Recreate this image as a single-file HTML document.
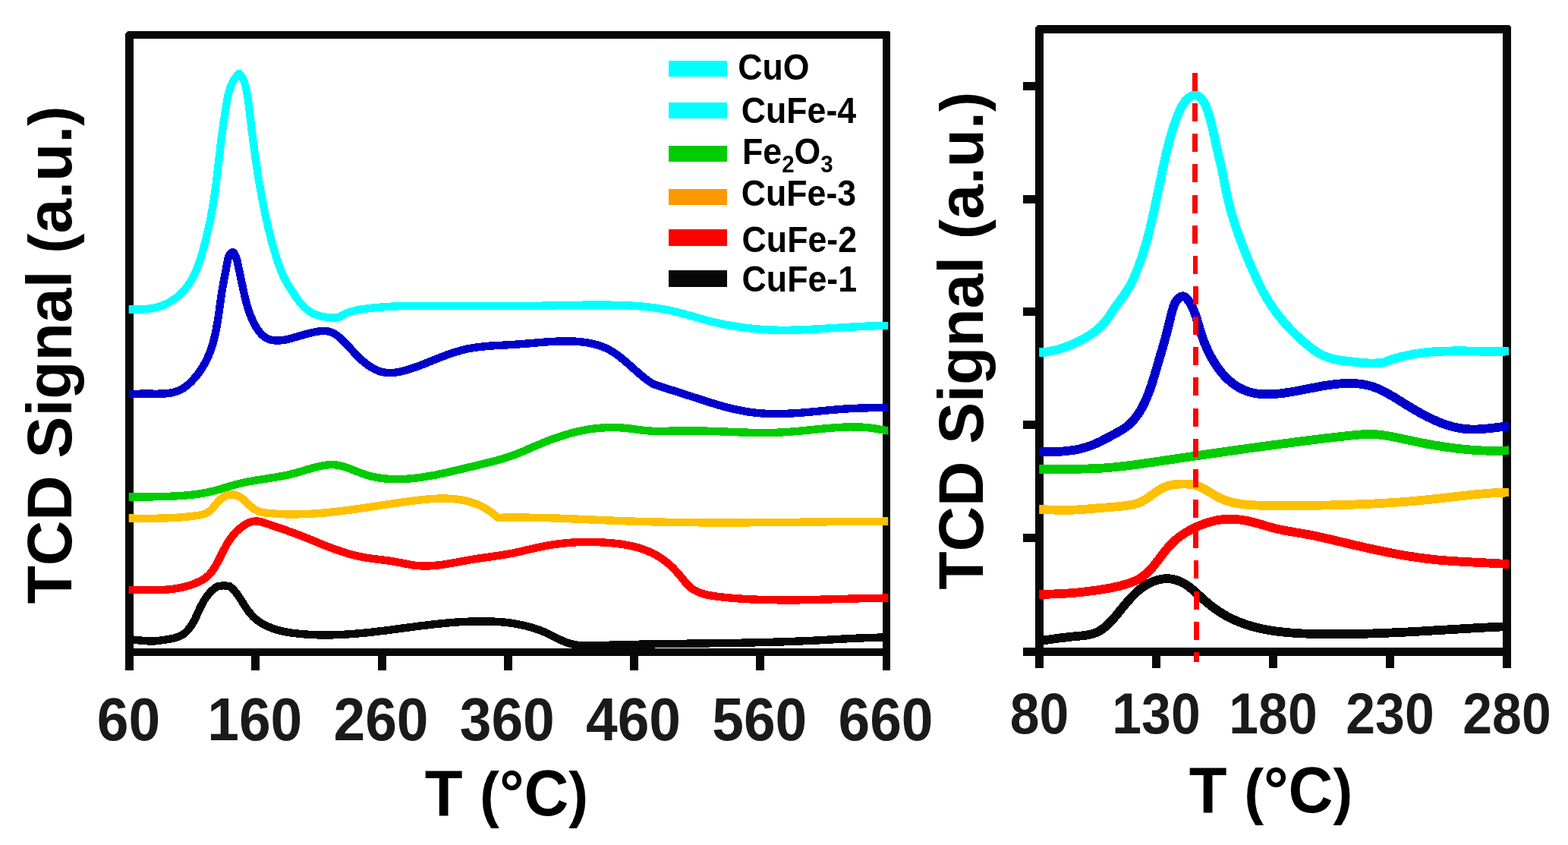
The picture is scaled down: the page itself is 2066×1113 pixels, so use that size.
<!DOCTYPE html>
<html lang="en"><head><meta charset="utf-8"><title>TCD Signal vs T</title>
<style>html,body{margin:0;padding:0;background:#fff}body{width:2066px;height:1113px;overflow:hidden}svg{display:block}text{font-family:"Liberation Sans",sans-serif;font-weight:bold}</style></head><body>
<svg width="2066" height="1113" viewBox="0 0 2066 1113">
<rect width="2066" height="1113" fill="#fff"/>
<g fill="#080808" shape-rendering="crispEdges">
<path d="M168 41H1171L1173 43V883H1163V864H176V883H165V44ZM176 51V854H1163V51Z" fill-rule="evenodd"/>
<rect x="331.0" y="860" width="11" height="23"/>
<rect x="498.0" y="860" width="11" height="23"/>
<rect x="664.0" y="860" width="11" height="23"/>
<rect x="830.0" y="860" width="11" height="23"/>
<rect x="996.0" y="860" width="11" height="23"/>
<path d="M1367 33H1988L1991 36V880H1980V864H1375V880H1364V864H1348V853H1364V36ZM1375 44V853H1980V44Z" fill-rule="evenodd"/>
<rect x="1518" y="860" width="11" height="20"/>
<rect x="1672" y="860" width="11" height="20"/>
<rect x="1826" y="860" width="11" height="20"/>
<rect x="1348" y="108" width="20" height="11"/>
<rect x="1348" y="257" width="20" height="11"/>
<rect x="1348" y="405" width="20" height="11"/>
<rect x="1348" y="554" width="20" height="11"/>
<rect x="1348" y="703" width="20" height="11"/>
</g>
<defs><clipPath id="cl"><rect x="169.7" y="0" width="1000.4" height="1113"/></clipPath><clipPath id="cr"><rect x="1369.2" y="0" width="618.8" height="1113"/></clipPath></defs>
<g fill="none" stroke-linejoin="round" stroke-linecap="butt" shape-rendering="crispEdges" stroke-width="10.4" clip-path="url(#cl)">
<path d="M159.7 842.3C161.7 842.1 163.7 842.1 165.7 842.1C167.7 842.1 169.6 842.2 171.6 842.3C173.6 842.4 175.6 842.6 177.6 842.8C179.6 843.0 181.6 843.2 183.6 843.4C185.6 843.6 187.5 843.8 189.5 844.0C191.5 844.2 193.5 844.3 195.5 844.4C197.4 844.5 199.4 844.5 201.4 844.5C203.3 844.4 205.3 844.3 207.2 844.1C209.2 843.9 211.1 843.6 213.1 843.3C215.1 843.0 217.1 842.7 219.1 842.4C221.1 842.1 223.1 841.8 225.1 841.4C227.1 841.0 229.1 840.6 231.0 840.1C233.0 839.5 234.9 838.9 236.7 838.1C238.5 837.3 240.1 836.3 241.7 835.2C243.3 834.1 244.7 832.9 246.1 831.5C247.4 830.2 248.7 828.7 249.8 827.1C251.0 825.6 252.1 824.0 253.1 822.3C254.2 820.5 255.1 818.8 256.1 817.0C257.0 815.2 257.9 813.3 258.8 811.5C259.6 809.6 260.5 807.7 261.3 805.8C262.2 804.0 263.1 802.1 263.9 800.2C264.8 798.4 265.7 796.6 266.7 794.9C267.6 793.1 268.6 791.4 269.6 789.8C270.7 788.1 271.8 786.5 272.9 785.0C274.1 783.5 275.4 782.0 276.7 780.6C278.0 779.1 279.4 777.8 280.9 776.5C282.5 775.1 284.1 773.9 285.8 772.7L294.5 771.2L302.4 772.2C303.9 773.3 305.4 774.5 306.8 775.9C308.1 777.2 309.4 778.7 310.7 780.2C311.9 781.8 313.1 783.4 314.3 785.1C315.5 786.8 316.6 788.6 317.7 790.3C318.8 792.1 320.0 793.9 321.1 795.7C322.2 797.5 323.3 799.2 324.5 801.0C325.6 802.7 326.8 804.4 328.1 806.0C329.3 807.6 330.6 809.2 332.0 810.6C333.3 812.1 334.7 813.4 336.2 814.7C337.6 816.0 339.2 817.2 340.7 818.3C342.3 819.4 343.9 820.5 345.6 821.5C347.2 822.4 348.9 823.4 350.6 824.2C352.4 825.0 354.2 825.8 356.0 826.5C357.8 827.3 359.6 827.9 361.5 828.5C363.3 829.1 365.2 829.7 367.2 830.2C369.1 830.7 371.0 831.2 373.0 831.6C374.9 832.0 376.9 832.4 378.9 832.7C380.9 833.1 382.9 833.4 384.9 833.7C386.9 834.0 388.9 834.2 390.9 834.4C392.9 834.7 394.9 834.9 396.9 835.1C398.9 835.2 400.9 835.4 402.9 835.5C404.9 835.7 406.9 835.8 408.9 835.9C410.9 836.0 412.9 836.1 414.9 836.2C416.9 836.3 418.9 836.3 420.9 836.4C422.9 836.4 424.9 836.4 426.9 836.5C428.9 836.5 430.9 836.5 432.9 836.4C434.9 836.4 436.9 836.4 438.9 836.3C440.9 836.3 442.9 836.2 444.9 836.1C446.8 836.1 448.8 836.0 450.8 835.9C452.8 835.8 454.8 835.7 456.8 835.5C458.8 835.4 460.7 835.3 462.7 835.1C464.7 835.0 466.7 834.8 468.7 834.7C470.7 834.5 472.6 834.3 474.6 834.2C476.6 834.0 478.6 833.8 480.6 833.6C482.5 833.4 484.5 833.2 486.5 833.0C488.5 832.8 490.5 832.5 492.4 832.3C494.4 832.1 496.4 831.9 498.4 831.6C500.3 831.4 502.3 831.2 504.3 830.9C506.3 830.7 508.3 830.4 510.2 830.2C512.2 829.9 514.2 829.7 516.2 829.4C518.1 829.1 520.1 828.9 522.1 828.6C524.1 828.4 526.0 828.1 528.0 827.8C530.0 827.6 532.0 827.3 533.9 827.1C535.9 826.8 537.9 826.5 539.9 826.3C541.9 826.0 543.8 825.8 545.8 825.5C547.8 825.2 549.8 825.0 551.7 824.7C553.7 824.5 555.7 824.2 557.7 824.0C559.7 823.7 561.6 823.5 563.6 823.3C565.6 823.0 567.6 822.8 569.6 822.6C571.5 822.3 573.5 822.1 575.5 821.9C577.5 821.7 579.5 821.5 581.5 821.3C583.4 821.1 585.4 820.9 587.4 820.7C589.4 820.5 591.4 820.3 593.4 820.2C595.4 820.0 597.3 819.8 599.3 819.7C601.3 819.5 603.3 819.4 605.3 819.3C607.3 819.2 609.3 819.0 611.3 818.9C613.3 818.8 615.3 818.7 617.3 818.7C619.3 818.6 621.2 818.5 623.2 818.4C625.2 818.4 627.2 818.4 629.2 818.3C631.2 818.3 633.2 818.3 635.2 818.3C637.3 818.3 639.3 818.3 641.3 818.3C643.3 818.4 645.3 818.4 647.3 818.5C649.3 818.6 651.3 818.7 653.3 818.8C655.3 818.9 657.3 819.0 659.3 819.2C661.2 819.4 663.2 819.5 665.2 819.7C667.2 820.0 669.2 820.2 671.2 820.4C673.1 820.7 675.1 821.0 677.1 821.3C679.0 821.6 681.0 821.9 682.9 822.3C684.9 822.7 686.8 823.1 688.8 823.5C690.7 824.0 692.6 824.4 694.5 824.9C696.5 825.4 698.4 825.9 700.3 826.5C702.2 827.1 704.1 827.7 705.9 828.3C707.8 828.9 709.7 829.6 711.6 830.3C713.4 831.0 715.3 831.7 717.1 832.5C718.9 833.3 720.8 834.1 722.6 834.9C724.4 835.8 726.2 836.7 728.0 837.6C729.8 838.5 731.6 839.4 733.4 840.4C735.2 841.3 737.0 842.1 738.8 843.0C740.6 843.8 742.5 844.6 744.3 845.3C746.2 846.1 748.1 846.7 749.9 847.3C751.8 847.9 753.7 848.4 755.7 848.8C757.6 849.2 759.5 849.5 761.5 849.8C763.4 850.1 765.4 850.2 767.4 850.4C769.3 850.5 771.3 850.6 773.3 850.6C775.3 850.6 777.3 850.6 779.3 850.5C781.3 850.5 783.3 850.4 785.3 850.4C787.3 850.3 789.3 850.2 791.3 850.1C793.3 850.1 795.3 850.0 797.3 849.9C799.3 849.9 801.3 849.8 803.3 849.7C805.3 849.7 807.3 849.6 809.3 849.5C811.3 849.5 813.3 849.4 815.3 849.4C817.3 849.3 819.3 849.3 821.3 849.2C823.3 849.1 825.3 849.1 827.3 849.0C829.3 849.0 831.3 848.9 833.3 848.9C835.3 848.9 837.3 848.8 839.3 848.8C841.3 848.7 843.3 848.7 845.3 848.6C847.3 848.6 849.3 848.6 851.3 848.5C853.3 848.5 855.3 848.4 857.3 848.4C859.2 848.4 861.2 848.3 863.2 848.3C865.2 848.3 867.2 848.2 869.2 848.2C871.2 848.2 873.2 848.1 875.2 848.1C877.2 848.1 879.2 848.1 881.2 848.0C883.2 848.0 885.2 848.0 887.2 847.9C889.2 847.9 891.2 847.9 893.2 847.9C895.1 847.8 897.1 847.8 899.1 847.8C901.1 847.8 903.1 847.7 905.1 847.7C907.1 847.7 909.1 847.7 911.1 847.6C913.1 847.6 915.1 847.6 917.1 847.6C919.1 847.5 921.1 847.5 923.0 847.5C925.0 847.5 927.0 847.4 929.0 847.4C931.0 847.4 933.0 847.4 935.0 847.3C937.0 847.3 939.0 847.3 941.0 847.2C943.0 847.2 945.0 847.2 946.9 847.2C948.9 847.1 950.9 847.1 952.9 847.1C954.9 847.1 956.9 847.0 958.9 847.0C960.9 847.0 962.9 846.9 964.9 846.9C966.9 846.9 968.8 846.8 970.8 846.8C972.8 846.8 974.8 846.7 976.8 846.7C978.8 846.7 980.8 846.6 982.8 846.6C984.8 846.5 986.8 846.5 988.8 846.5C990.7 846.4 992.7 846.4 994.7 846.3C996.7 846.3 998.7 846.2 1000.7 846.2C1002.7 846.2 1004.7 846.1 1006.7 846.1C1008.7 846.0 1010.7 846.0 1012.6 845.9C1014.6 845.8 1016.6 845.8 1018.6 845.7C1020.6 845.7 1022.6 845.6 1024.6 845.6C1026.6 845.5 1028.6 845.4 1030.6 845.4C1032.6 845.3 1034.5 845.2 1036.5 845.2C1038.5 845.1 1040.5 845.0 1042.5 845.0C1044.5 844.9 1046.5 844.8 1048.5 844.7C1050.5 844.6 1052.5 844.6 1054.5 844.5C1056.5 844.4 1058.5 844.3 1060.4 844.2C1062.4 844.1 1064.4 844.0 1066.4 843.9C1068.4 843.9 1070.4 843.8 1072.4 843.7C1074.4 843.6 1076.4 843.5 1078.4 843.4C1080.4 843.3 1082.4 843.1 1084.4 843.0C1086.4 842.9 1088.4 842.8 1090.4 842.7C1092.3 842.6 1094.3 842.5 1096.3 842.4C1098.3 842.3 1100.3 842.2 1102.3 842.1C1104.3 842.0 1106.3 841.8 1108.3 841.7C1110.3 841.6 1112.3 841.5 1114.3 841.4C1116.3 841.3 1118.3 841.2 1120.3 841.1C1122.3 841.0 1124.2 840.9 1126.2 840.8C1128.2 840.7 1130.2 840.6 1132.2 840.5C1134.2 840.5 1136.2 840.4 1138.2 840.3C1140.2 840.2 1142.2 840.1 1144.2 840.1C1146.2 840.0 1148.2 839.9 1150.2 839.8C1152.1 839.8 1154.1 839.7 1156.1 839.7C1158.1 839.6 1160.1 839.6 1162.1 839.5C1164.1 839.5 1166.1 839.4 1168.1 839.4C1170.1 839.4 1172.0 839.3 1174.0 839.3C1176.0 839.3 1178.0 839.3 1180.0 839.3" stroke="#080808"/>
<path d="M159.7 407.5C161.6 407.5 163.6 407.5 165.6 407.5C167.5 407.5 169.5 407.5 171.5 407.5C173.5 407.6 175.5 407.6 177.5 407.6C179.5 407.6 181.6 407.6 183.6 407.5C185.6 407.5 187.6 407.4 189.6 407.3C191.6 407.1 193.7 407.0 195.6 406.7C197.6 406.5 199.6 406.2 201.6 405.8C203.5 405.5 205.5 405.0 207.4 404.5C209.3 404.0 211.2 403.4 213.1 402.7C215.0 402.0 216.8 401.2 218.6 400.4C220.4 399.5 222.2 398.6 223.9 397.6C225.6 396.6 227.3 395.5 229.0 394.4C230.6 393.3 232.2 392.1 233.7 390.9C235.3 389.6 236.8 388.3 238.2 386.9C239.6 385.6 241.0 384.2 242.3 382.7C243.6 381.2 244.8 379.7 246.0 378.2C247.2 376.6 248.4 375.0 249.4 373.4C250.5 371.7 251.5 370.1 252.5 368.3C253.5 366.6 254.4 364.9 255.3 363.1C256.2 361.3 257.0 359.5 257.8 357.7C258.7 355.9 259.4 354.0 260.2 352.1C260.9 350.3 261.6 348.4 262.3 346.5C262.9 344.5 263.6 342.6 264.2 340.7C264.8 338.8 265.4 336.8 266.0 334.9C266.5 332.9 267.1 331.0 267.6 329.0C268.2 327.0 268.7 325.1 269.2 323.1C269.7 321.2 270.2 319.2 270.7 317.3C271.2 315.3 271.7 313.4 272.1 311.5C272.6 309.5 273.1 307.6 273.5 305.7C274.0 303.7 274.4 301.8 274.9 299.9C275.3 297.9 275.7 296.0 276.1 294.1C276.5 292.2 276.9 290.2 277.3 288.3C277.7 286.4 278.1 284.4 278.4 282.5C278.8 280.5 279.2 278.6 279.5 276.7C279.9 274.7 280.2 272.8 280.5 270.8C280.9 268.9 281.2 266.9 281.5 265.0C281.8 263.0 282.1 261.0 282.4 259.1C282.7 257.1 282.9 255.1 283.2 253.2C283.5 251.2 283.8 249.2 284.0 247.2C284.3 245.3 284.5 243.3 284.8 241.3C285.0 239.3 285.3 237.4 285.5 235.4C285.8 233.4 286.0 231.4 286.2 229.4C286.5 227.4 286.7 225.4 286.9 223.5C287.2 221.5 287.4 219.5 287.6 217.5C287.8 215.5 288.1 213.5 288.3 211.5C288.5 209.5 288.7 207.6 289.0 205.6C289.2 203.6 289.4 201.6 289.7 199.6C289.9 197.6 290.1 195.6 290.4 193.7C290.6 191.7 290.8 189.7 291.1 187.7C291.3 185.7 291.6 183.8 291.8 181.8C292.1 179.8 292.3 177.8 292.6 175.9C292.8 173.9 293.1 171.9 293.4 170.0C293.6 168.0 293.9 166.0 294.2 164.1C294.5 162.1 294.8 160.1 295.1 158.2C295.4 156.2 295.7 154.2 296.0 152.3C296.3 150.3 296.6 148.3 296.9 146.4C297.2 144.4 297.5 142.4 297.8 140.4C298.2 138.4 298.5 136.5 298.8 134.5C299.2 132.5 299.5 130.5 299.9 128.5C300.3 126.6 300.8 124.6 301.2 122.7C301.7 120.8 302.3 118.8 302.9 117.0C303.5 115.1 304.2 113.3 305.0 111.5C305.7 109.7 306.6 107.9 307.6 106.3C308.6 104.6 309.7 102.9 310.9 101.4C312.1 99.8 313.5 98.3 315.0 96.9C316.6 98.3 317.9 99.9 319.0 101.5C320.0 103.2 320.8 105.0 321.5 106.9C322.2 108.7 322.7 110.6 323.2 112.6C323.7 114.5 324.2 116.5 324.6 118.4C325.0 120.4 325.4 122.3 325.7 124.3C326.1 126.3 326.4 128.2 326.7 130.2C327.0 132.2 327.2 134.2 327.5 136.2C327.8 138.2 328.0 140.2 328.3 142.2C328.5 144.2 328.7 146.2 329.0 148.2C329.2 150.2 329.4 152.2 329.7 154.2C329.9 156.1 330.1 158.1 330.4 160.1C330.6 162.1 330.8 164.1 331.1 166.1C331.3 168.1 331.6 170.1 331.8 172.1C332.1 174.1 332.3 176.1 332.6 178.1C332.8 180.1 333.1 182.1 333.3 184.1C333.6 186.1 333.8 188.1 334.1 190.0C334.4 192.0 334.6 194.0 334.9 196.0C335.2 198.0 335.4 200.0 335.7 202.0C336.0 204.0 336.3 206.0 336.5 207.9C336.8 209.9 337.1 211.9 337.4 213.9C337.7 215.9 338.0 217.9 338.3 219.8C338.6 221.8 338.9 223.8 339.2 225.8C339.5 227.8 339.8 229.7 340.1 231.7C340.4 233.7 340.8 235.7 341.1 237.7C341.4 239.6 341.8 241.6 342.1 243.6C342.4 245.6 342.8 247.5 343.1 249.5C343.5 251.5 343.8 253.5 344.2 255.4C344.5 257.4 344.9 259.4 345.3 261.3C345.7 263.3 346.0 265.3 346.4 267.2C346.8 269.2 347.2 271.2 347.6 273.1C348.0 275.1 348.4 277.1 348.8 279.0C349.2 281.0 349.6 283.0 350.0 284.9C350.5 286.9 350.9 288.8 351.3 290.8C351.8 292.8 352.2 294.7 352.7 296.7C353.1 298.6 353.6 300.6 354.1 302.5C354.5 304.5 355.0 306.4 355.5 308.4C356.0 310.3 356.5 312.3 357.0 314.2C357.5 316.2 358.0 318.1 358.5 320.1C359.1 322.0 359.6 323.9 360.2 325.9C360.7 327.8 361.3 329.7 361.8 331.6C362.4 333.6 363.0 335.5 363.6 337.4C364.2 339.3 364.8 341.2 365.5 343.1C366.1 345.0 366.8 346.9 367.4 348.8C368.1 350.7 368.8 352.6 369.5 354.5C370.2 356.4 370.9 358.2 371.7 360.0C372.5 361.9 373.3 363.7 374.2 365.5C375.1 367.3 376.0 369.0 377.0 370.8C377.9 372.5 379.0 374.2 380.0 375.9C381.1 377.6 382.2 379.3 383.3 380.9C384.4 382.6 385.5 384.3 386.6 386.0C387.7 387.7 388.8 389.4 389.9 391.0C391.1 392.7 392.2 394.4 393.5 396.0C394.7 397.6 395.9 399.2 397.2 400.7C398.5 402.2 399.9 403.6 401.3 405.0C402.8 406.4 404.3 407.7 405.8 408.8C407.4 410.0 409.0 411.1 410.8 412.1C412.5 413.0 414.3 413.8 416.2 414.5C418.1 415.2 420.1 415.8 422.1 416.3C424.0 416.8 426.1 417.2 428.1 417.5C430.1 417.9 432.2 418.1 434.2 418.2C436.2 418.4 438.3 418.5 440.2 418.5C442.2 418.4 444.2 418.4 446.1 418.2C447.8 417.0 449.6 416.0 451.3 415.0C453.1 414.1 454.9 413.2 456.8 412.5C458.6 411.7 460.5 411.1 462.4 410.5C464.3 409.9 466.2 409.4 468.1 409.0C470.0 408.5 472.0 408.1 473.9 407.8C475.9 407.4 477.9 407.2 479.8 406.9C481.8 406.6 483.8 406.4 485.8 406.1C487.8 405.9 489.8 405.7 491.7 405.5C493.7 405.3 495.7 405.1 497.7 404.9C499.7 404.8 501.7 404.6 503.7 404.5C505.7 404.3 507.7 404.2 509.7 404.0C511.7 403.9 513.7 403.8 515.7 403.7C517.7 403.6 519.7 403.5 521.7 403.4C523.7 403.3 525.7 403.2 527.7 403.2C529.7 403.1 531.7 403.0 533.7 403.0C535.7 402.9 537.7 402.9 539.7 402.8C541.8 402.8 543.8 402.8 545.8 402.8C547.8 402.7 549.8 402.7 551.8 402.7C553.8 402.7 555.8 402.7 557.8 402.7C559.9 402.7 561.9 402.7 563.9 402.7C565.9 402.7 567.9 402.7 569.9 402.7C571.9 402.7 573.9 402.7 576.0 402.7C578.0 402.7 580.0 402.8 582.0 402.8C584.0 402.8 586.0 402.8 588.0 402.8C590.0 402.8 592.1 402.9 594.1 402.9C596.1 402.9 598.1 402.9 600.1 402.9C602.1 402.9 604.1 403.0 606.1 403.0C608.1 403.0 610.1 403.0 612.1 403.0C614.1 403.0 616.1 403.0 618.1 403.1C620.2 403.1 622.2 403.1 624.2 403.1C626.2 403.1 628.2 403.1 630.2 403.1C632.2 403.1 634.2 403.1 636.2 403.1C638.2 403.1 640.2 403.1 642.2 403.1C644.2 403.1 646.2 403.1 648.2 403.1C650.2 403.1 652.2 403.1 654.2 403.1C656.2 403.1 658.2 403.1 660.2 403.1C662.2 403.1 664.2 403.1 666.2 403.1C668.2 403.1 670.2 403.1 672.2 403.1C674.2 403.1 676.2 403.1 678.2 403.1C680.2 403.0 682.2 403.0 684.2 403.0C686.2 403.0 688.2 403.0 690.2 403.0C692.2 402.9 694.2 402.9 696.2 402.9C698.2 402.9 700.2 402.9 702.2 402.8C704.2 402.8 706.2 402.8 708.2 402.7C710.2 402.7 712.2 402.7 714.2 402.7C716.2 402.6 718.2 402.6 720.2 402.5C722.2 402.5 724.3 402.5 726.3 402.4C728.3 402.4 730.3 402.4 732.3 402.3C734.3 402.3 736.3 402.2 738.3 402.2C740.3 402.2 742.3 402.1 744.3 402.1C746.3 402.0 748.3 402.0 750.3 402.0C752.3 401.9 754.3 401.9 756.3 401.8C758.4 401.8 760.4 401.8 762.4 401.8C764.4 401.7 766.4 401.7 768.4 401.7C770.4 401.6 772.4 401.6 774.4 401.6C776.4 401.6 778.4 401.6 780.4 401.6C782.4 401.6 784.5 401.6 786.5 401.6C788.5 401.6 790.5 401.6 792.5 401.6C794.5 401.6 796.5 401.6 798.5 401.6C800.5 401.6 802.5 401.7 804.5 401.7C806.5 401.7 808.5 401.8 810.5 401.8C812.6 401.9 814.6 401.9 816.6 402.0C818.6 402.0 820.6 402.1 822.6 402.2C824.6 402.3 826.6 402.4 828.6 402.4C830.6 402.5 832.6 402.6 834.6 402.8C836.6 402.9 838.6 403.0 840.6 403.2C842.6 403.3 844.6 403.5 846.6 403.6C848.6 403.8 850.6 404.0 852.6 404.2C854.6 404.4 856.6 404.6 858.6 404.9C860.5 405.1 862.5 405.4 864.5 405.7C866.5 406.0 868.5 406.3 870.4 406.7C872.4 407.0 874.4 407.3 876.3 407.7C878.3 408.1 880.3 408.5 882.2 408.9C884.2 409.3 886.2 409.7 888.1 410.2C890.1 410.6 892.0 411.1 893.9 411.6C895.9 412.1 897.8 412.6 899.8 413.1C901.7 413.6 903.6 414.1 905.6 414.7C907.5 415.2 909.4 415.7 911.4 416.3C913.3 416.8 915.2 417.4 917.2 417.9C919.1 418.5 921.0 419.0 923.0 419.6C924.9 420.1 926.8 420.6 928.8 421.2C930.7 421.7 932.7 422.2 934.6 422.7C936.5 423.2 938.5 423.7 940.4 424.2C942.4 424.6 944.4 425.1 946.3 425.5C948.3 426.0 950.2 426.4 952.2 426.8C954.2 427.2 956.1 427.6 958.1 428.0C960.1 428.3 962.0 428.7 964.0 429.0C966.0 429.4 968.0 429.7 970.0 430.0C971.9 430.3 973.9 430.6 975.9 430.9C977.9 431.2 979.9 431.5 981.9 431.7C983.9 432.0 985.9 432.2 987.8 432.4C989.8 432.7 991.8 432.9 993.8 433.0C995.8 433.2 997.8 433.4 999.8 433.6C1001.8 433.7 1003.8 433.9 1005.8 434.0C1007.8 434.1 1009.8 434.2 1011.8 434.3C1013.8 434.4 1015.8 434.5 1017.8 434.6C1019.8 434.6 1021.8 434.7 1023.8 434.7C1025.8 434.7 1027.8 434.8 1029.8 434.8C1031.8 434.8 1033.8 434.8 1035.8 434.8C1037.8 434.8 1039.8 434.8 1041.8 434.7C1043.8 434.7 1045.8 434.6 1047.8 434.6C1049.8 434.5 1051.8 434.5 1053.8 434.4C1055.8 434.4 1057.8 434.3 1059.8 434.2C1061.9 434.1 1063.9 434.0 1065.9 433.9C1067.9 433.8 1069.9 433.7 1071.9 433.6C1073.9 433.5 1075.9 433.4 1077.9 433.3C1079.9 433.2 1081.9 433.1 1083.9 433.0C1085.9 432.8 1087.9 432.7 1089.9 432.6C1091.9 432.5 1093.9 432.3 1095.9 432.2C1097.9 432.1 1099.9 432.0 1102.0 431.8C1104.0 431.7 1106.0 431.6 1108.0 431.5C1110.0 431.3 1112.0 431.2 1114.0 431.1C1116.0 431.0 1118.0 430.8 1120.0 430.7C1122.0 430.6 1124.0 430.5 1126.0 430.4C1128.0 430.3 1130.0 430.2 1132.0 430.1C1134.0 430.0 1136.0 429.9 1138.0 429.8C1140.1 429.7 1142.1 429.6 1144.1 429.6C1146.1 429.5 1148.1 429.4 1150.1 429.4C1152.1 429.3 1154.1 429.3 1156.1 429.2C1158.1 429.2 1160.1 429.2 1162.1 429.1C1164.1 429.1 1166.1 429.1 1168.1 429.1C1170.1 429.1 1172.1 429.1 1174.1 429.2C1176.1 429.2 1178.1 429.2 1180.1 429.3" stroke="#00ffff"/>
<path d="M159.7 519.0C161.7 519.0 163.7 519.0 165.7 519.0C167.7 519.0 169.7 518.9 171.7 518.9C173.7 518.9 175.6 518.8 177.6 518.8C179.6 518.8 181.6 518.7 183.6 518.7C185.6 518.7 187.6 518.6 189.6 518.6C191.6 518.6 193.6 518.6 195.6 518.6C197.7 518.6 199.7 518.7 201.7 518.7C203.8 518.7 205.8 518.7 207.8 518.7C209.9 518.7 211.9 518.7 213.9 518.6C215.9 518.5 217.9 518.4 219.9 518.2C221.9 518.0 223.8 517.8 225.8 517.4C227.7 517.0 229.6 516.6 231.4 516.0C233.3 515.4 235.1 514.7 236.9 513.9C238.6 513.1 240.3 512.1 242.0 511.0C243.7 509.9 245.3 508.7 246.8 507.4C248.4 506.1 249.9 504.8 251.4 503.3C252.9 501.9 254.3 500.4 255.6 498.8C257.0 497.3 258.3 495.7 259.6 494.1C260.8 492.5 262.0 490.9 263.2 489.3C264.3 487.6 265.4 486.0 266.5 484.3C267.5 482.6 268.5 480.9 269.5 479.2C270.4 477.5 271.4 475.8 272.2 474.0C273.1 472.2 273.9 470.4 274.7 468.6C275.4 466.8 276.2 465.0 276.9 463.2C277.6 461.3 278.2 459.4 278.8 457.6C279.4 455.7 280.0 453.8 280.6 451.9C281.1 450.0 281.6 448.0 282.1 446.1C282.6 444.1 283.1 442.2 283.5 440.2C283.9 438.3 284.3 436.3 284.7 434.3C285.1 432.3 285.5 430.3 285.8 428.3C286.2 426.3 286.5 424.3 286.9 422.3C287.2 420.3 287.5 418.3 287.8 416.3C288.1 414.3 288.4 412.3 288.7 410.3C288.9 408.3 289.2 406.3 289.5 404.3C289.8 402.3 290.0 400.3 290.3 398.3C290.6 396.3 290.9 394.4 291.2 392.4C291.4 390.4 291.7 388.5 292.0 386.5C292.3 384.6 292.6 382.6 293.0 380.7C293.3 378.8 293.6 376.9 294.0 375.0C294.3 373.0 294.7 371.1 295.0 369.2C295.4 367.3 295.8 365.4 296.1 363.5C296.5 361.5 296.9 359.6 297.3 357.6C297.7 355.6 298.0 353.5 298.4 351.5C298.8 349.4 299.2 347.3 299.6 345.1C300.0 342.9 300.4 340.8 301.0 338.9C301.6 336.9 302.4 335.3 303.4 334.0C304.5 332.8 306.1 331.9 307.4 332.6C308.7 333.3 309.8 335.5 310.6 337.5C311.5 339.6 312.0 341.6 312.5 343.6C312.9 345.5 313.3 347.5 313.7 349.5C314.2 351.4 314.6 353.4 315.0 355.3C315.4 357.3 315.8 359.2 316.3 361.2C316.7 363.1 317.1 365.1 317.5 367.0C317.9 369.0 318.3 370.9 318.7 372.9C319.1 374.8 319.6 376.8 320.0 378.7C320.4 380.7 320.8 382.6 321.2 384.6C321.6 386.5 322.1 388.5 322.5 390.4C323.0 392.4 323.5 394.3 324.0 396.2C324.5 398.2 325.0 400.1 325.5 402.0C326.1 403.9 326.7 405.8 327.3 407.7C327.9 409.6 328.5 411.5 329.2 413.4C329.9 415.3 330.7 417.1 331.5 419.0C332.3 420.8 333.1 422.6 334.0 424.4C334.9 426.2 335.9 428.0 336.9 429.8C337.9 431.5 339.0 433.3 340.1 434.9C341.3 436.6 342.6 438.2 343.9 439.6C345.2 441.1 346.7 442.4 348.3 443.6C349.8 444.7 351.5 445.7 353.3 446.4C355.1 447.2 357.1 447.7 359.1 448.1C361.1 448.4 363.2 448.5 365.2 448.6C367.2 448.6 369.3 448.4 371.2 448.2C373.2 448.0 375.2 447.7 377.2 447.3C379.2 446.8 381.1 446.4 383.0 445.9C385.0 445.3 386.9 444.8 388.8 444.2C390.7 443.7 392.6 443.1 394.5 442.6C396.4 442.0 398.3 441.5 400.2 441.0C402.1 440.4 404.0 439.9 405.9 439.4C407.8 438.9 409.8 438.4 411.8 438.0C413.8 437.5 415.8 437.1 417.8 436.8C419.8 436.4 421.9 436.2 423.9 436.0C425.9 435.9 427.9 435.9 429.8 436.1C431.8 436.3 433.7 436.7 435.5 437.3C437.3 437.9 439.1 438.7 440.8 439.7C442.5 440.7 444.1 441.9 445.7 443.1C447.3 444.4 448.9 445.7 450.4 447.2C451.9 448.6 453.3 450.0 454.7 451.5C456.2 453.0 457.5 454.5 458.9 455.9C460.3 457.4 461.6 458.9 462.9 460.3C464.3 461.8 465.6 463.3 466.9 464.7C468.3 466.1 469.6 467.5 471.0 468.9C472.4 470.3 473.8 471.7 475.2 473.1C476.7 474.4 478.2 475.7 479.8 477.0C481.3 478.3 482.9 479.6 484.6 480.8C486.3 482.0 488.0 483.1 489.8 484.1C491.5 485.2 493.3 486.1 495.1 487.0C497.0 487.8 498.8 488.6 500.7 489.2C502.6 489.8 504.5 490.2 506.4 490.5C508.3 490.8 510.2 491.0 512.2 491.1C514.1 491.1 516.1 491.1 518.0 490.9C520.0 490.8 521.9 490.5 523.9 490.2C525.9 489.9 527.8 489.5 529.8 489.0C531.8 488.5 533.7 488.0 535.7 487.4C537.6 486.9 539.5 486.3 541.5 485.6C543.4 485.0 545.3 484.4 547.2 483.7C549.1 483.0 551.0 482.3 552.9 481.6C554.8 480.9 556.7 480.2 558.6 479.5C560.5 478.7 562.3 478.0 564.2 477.2C566.1 476.5 567.9 475.7 569.8 475.0C571.7 474.2 573.5 473.5 575.4 472.7C577.2 472.0 579.1 471.3 581.0 470.5C582.8 469.8 584.7 469.1 586.6 468.4C588.4 467.7 590.3 467.0 592.2 466.3C594.0 465.7 595.9 465.0 597.8 464.4C599.7 463.8 601.6 463.2 603.5 462.7C605.4 462.1 607.3 461.6 609.2 461.1C611.1 460.6 613.0 460.1 615.0 459.7C616.9 459.3 618.8 458.9 620.8 458.6C622.7 458.2 624.7 457.9 626.7 457.7C628.7 457.4 630.6 457.1 632.6 456.9C634.6 456.7 636.6 456.4 638.6 456.3C640.6 456.1 642.6 455.9 644.6 455.7C646.6 455.6 648.6 455.5 650.6 455.3C652.6 455.2 654.6 455.1 656.6 455.0C658.6 454.9 660.7 454.8 662.7 454.7C664.7 454.6 666.7 454.4 668.7 454.3C670.7 454.2 672.7 454.1 674.7 454.0C676.7 453.9 678.7 453.8 680.7 453.6C682.7 453.5 684.7 453.4 686.7 453.2C688.7 453.1 690.7 452.9 692.7 452.7C694.7 452.6 696.6 452.4 698.6 452.2C700.6 452.0 702.6 451.9 704.5 451.7C706.5 451.5 708.5 451.4 710.5 451.2C712.5 451.0 714.4 450.9 716.4 450.7C718.4 450.6 720.4 450.4 722.3 450.3C724.3 450.1 726.3 450.0 728.3 449.9C730.3 449.8 732.3 449.7 734.3 449.6C736.2 449.5 738.2 449.5 740.2 449.4C742.2 449.4 744.2 449.4 746.3 449.4C748.3 449.4 750.3 449.4 752.3 449.5C754.3 449.5 756.3 449.6 758.4 449.7C760.4 449.9 762.4 450.0 764.4 450.2C766.4 450.4 768.4 450.6 770.4 450.9C772.4 451.2 774.4 451.5 776.4 451.8C778.3 452.2 780.3 452.6 782.2 453.1C784.1 453.5 786.1 454.1 787.9 454.6C789.8 455.2 791.7 455.9 793.5 456.6C795.4 457.3 797.2 458.0 799.0 458.9C800.8 459.7 802.5 460.6 804.2 461.6C805.9 462.6 807.6 463.6 809.3 464.7C810.9 465.8 812.6 466.9 814.2 468.1C815.8 469.3 817.4 470.5 818.9 471.8C820.5 473.1 822.1 474.4 823.6 475.7C825.2 477.0 826.7 478.3 828.2 479.7C829.7 481.0 831.3 482.4 832.8 483.8C834.3 485.1 835.8 486.5 837.3 487.8C838.9 489.2 840.4 490.5 841.9 491.9C843.5 493.2 845.0 494.5 846.5 495.7C848.1 497.0 849.7 498.2 851.2 499.4C852.8 500.6 854.4 501.8 856.1 502.9C857.7 504.0 859.3 505.0 861.0 506.0C862.9 506.7 864.8 507.3 866.7 508.0C868.6 508.6 870.5 509.2 872.4 509.9C874.3 510.5 876.2 511.1 878.1 511.7C880.0 512.3 881.9 512.9 883.8 513.5C885.8 514.1 887.7 514.7 889.6 515.3C891.5 515.9 893.4 516.5 895.3 517.1C897.2 517.7 899.1 518.3 901.0 518.9C902.9 519.5 904.8 520.2 906.7 520.8C908.6 521.4 910.5 522.0 912.4 522.6C914.3 523.3 916.2 523.9 918.1 524.5C920.0 525.1 921.9 525.8 923.9 526.4C925.8 527.0 927.7 527.6 929.6 528.2C931.5 528.8 933.4 529.5 935.4 530.1C937.3 530.6 939.2 531.2 941.1 531.8C943.1 532.4 945.0 533.0 946.9 533.5C948.9 534.1 950.8 534.6 952.7 535.2C954.7 535.7 956.6 536.2 958.6 536.7C960.5 537.2 962.5 537.7 964.4 538.2C966.4 538.6 968.3 539.1 970.3 539.5C972.2 539.9 974.2 540.3 976.2 540.7C978.1 541.1 980.1 541.5 982.1 541.8C984.0 542.2 986.0 542.5 988.0 542.8C989.9 543.0 991.9 543.3 993.9 543.5C995.9 543.8 997.9 544.0 999.8 544.1C1001.8 544.3 1003.8 544.5 1005.8 544.6C1007.8 544.7 1009.8 544.8 1011.8 544.9C1013.8 545.0 1015.8 545.0 1017.8 545.1C1019.8 545.1 1021.8 545.1 1023.8 545.1C1025.8 545.1 1027.8 545.0 1029.8 545.0C1031.8 545.0 1033.8 544.9 1035.8 544.8C1037.8 544.7 1039.8 544.6 1041.8 544.5C1043.8 544.4 1045.8 544.3 1047.9 544.2C1049.9 544.1 1051.9 543.9 1053.9 543.8C1055.9 543.6 1057.9 543.5 1059.9 543.3C1061.9 543.1 1063.9 543.0 1066.0 542.8C1068.0 542.6 1070.0 542.4 1072.0 542.2C1074.0 542.0 1076.0 541.9 1078.0 541.7C1080.0 541.5 1082.0 541.3 1084.1 541.1C1086.1 540.9 1088.1 540.7 1090.1 540.5C1092.1 540.3 1094.1 540.1 1096.1 540.0C1098.1 539.8 1100.1 539.6 1102.1 539.4C1104.1 539.3 1106.1 539.1 1108.1 539.0C1110.1 538.8 1112.1 538.7 1114.1 538.5C1116.1 538.4 1118.1 538.3 1120.1 538.2C1122.1 538.1 1124.1 538.0 1126.0 537.9C1128.0 537.8 1130.0 537.7 1132.0 537.6C1134.0 537.6 1136.0 537.5 1138.0 537.4C1140.0 537.4 1142.0 537.3 1143.9 537.3C1145.9 537.2 1147.9 537.2 1149.9 537.1C1151.9 537.1 1153.9 537.0 1155.9 537.0C1157.9 536.9 1159.9 536.9 1161.9 536.9C1163.9 536.8 1165.9 536.8 1167.9 536.7C1170.0 536.7 1172.0 536.6 1174.0 536.6C1176.0 536.5 1178.1 536.5 1180.1 536.4" stroke="#0000cc"/>
<path d="M159.7 654.6C161.7 654.6 163.7 654.6 165.7 654.5C167.7 654.5 169.7 654.5 171.7 654.5C173.7 654.5 175.7 654.5 177.7 654.5C179.7 654.5 181.7 654.5 183.7 654.5C185.7 654.5 187.7 654.4 189.7 654.4C191.7 654.4 193.7 654.4 195.7 654.4C197.7 654.4 199.7 654.3 201.7 654.3C203.7 654.3 205.7 654.3 207.7 654.2C209.7 654.2 211.7 654.1 213.7 654.1C215.7 654.0 217.7 654.0 219.7 653.9C221.7 653.8 223.7 653.8 225.7 653.7C227.7 653.6 229.7 653.5 231.7 653.4C233.7 653.3 235.7 653.2 237.7 653.0C239.7 652.9 241.7 652.7 243.7 652.6C245.7 652.4 247.7 652.2 249.7 652.0C251.7 651.8 253.7 651.6 255.7 651.4C257.7 651.1 259.6 650.8 261.6 650.6C263.6 650.3 265.6 649.9 267.5 649.6C269.5 649.3 271.5 648.9 273.4 648.5C275.4 648.1 277.3 647.6 279.3 647.2C281.2 646.7 283.1 646.2 285.1 645.7C287.0 645.1 288.9 644.6 290.8 644.0C292.8 643.5 294.7 642.9 296.6 642.3C298.5 641.7 300.4 641.2 302.4 640.6C304.3 640.0 306.2 639.5 308.1 638.9C310.1 638.4 312.0 637.9 313.9 637.4C315.9 636.9 317.8 636.4 319.8 636.0C321.7 635.5 323.7 635.1 325.7 634.7C327.6 634.4 329.6 634.0 331.6 633.6C333.5 633.3 335.5 633.0 337.5 632.6C339.5 632.3 341.4 632.0 343.4 631.7C345.4 631.4 347.4 631.1 349.3 630.8C351.3 630.5 353.3 630.1 355.2 629.8C357.2 629.5 359.2 629.2 361.1 628.9C363.1 628.6 365.1 628.2 367.0 627.9C369.0 627.5 370.9 627.2 372.9 626.8C374.8 626.4 376.8 626.0 378.8 625.6C380.7 625.1 382.7 624.7 384.6 624.2C386.6 623.7 388.5 623.2 390.5 622.7C392.4 622.2 394.3 621.6 396.3 621.0C398.2 620.5 400.2 619.9 402.1 619.3C404.1 618.7 406.0 618.1 407.9 617.6C409.9 617.0 411.8 616.4 413.8 615.9C415.7 615.4 417.7 614.9 419.6 614.5C421.6 614.0 423.6 613.6 425.5 613.3C427.5 612.9 429.5 612.6 431.4 612.4C433.4 612.2 435.4 612.1 437.3 612.1C439.3 612.1 441.2 612.3 443.2 612.5C445.1 612.8 447.0 613.1 448.9 613.6C450.9 614.0 452.8 614.6 454.7 615.2C456.6 615.8 458.5 616.5 460.4 617.2C462.3 617.9 464.2 618.6 466.1 619.4C468.0 620.1 469.8 620.9 471.7 621.7C473.7 622.4 475.6 623.1 477.5 623.8C479.4 624.5 481.3 625.1 483.2 625.7C485.2 626.3 487.1 626.8 489.0 627.3C491.0 627.8 492.9 628.2 494.9 628.6C496.8 629.0 498.8 629.3 500.7 629.6C502.7 629.9 504.7 630.1 506.6 630.4C508.6 630.6 510.6 630.7 512.6 630.9C514.6 631.0 516.5 631.1 518.5 631.1C520.5 631.2 522.5 631.2 524.5 631.2C526.5 631.2 528.5 631.1 530.4 631.0C532.4 631.0 534.4 630.9 536.4 630.7C538.4 630.6 540.4 630.4 542.4 630.2C544.4 630.0 546.4 629.8 548.4 629.6C550.3 629.4 552.3 629.1 554.3 628.8C556.3 628.5 558.3 628.2 560.3 627.9C562.2 627.6 564.2 627.3 566.2 626.9C568.2 626.6 570.1 626.2 572.1 625.9C574.1 625.5 576.0 625.1 578.0 624.7C580.0 624.3 581.9 623.9 583.9 623.4C585.9 623.0 587.8 622.6 589.8 622.1C591.8 621.7 593.7 621.3 595.7 620.8C597.6 620.3 599.6 619.9 601.5 619.4C603.5 619.0 605.5 618.5 607.4 618.0C609.4 617.6 611.3 617.1 613.3 616.6C615.2 616.2 617.2 615.7 619.1 615.2C621.1 614.8 623.0 614.3 625.0 613.8C626.9 613.4 628.9 612.9 630.8 612.4C632.7 612.0 634.7 611.5 636.6 611.0C638.6 610.6 640.5 610.1 642.4 609.6C644.4 609.1 646.3 608.6 648.2 608.1C650.2 607.6 652.1 607.1 654.0 606.6C655.9 606.0 657.8 605.5 659.7 604.9C661.7 604.4 663.6 603.8 665.5 603.2C667.4 602.6 669.2 602.0 671.1 601.4C673.0 600.7 674.9 600.1 676.8 599.4C678.6 598.7 680.5 598.0 682.4 597.2C684.2 596.5 686.1 595.8 687.9 595.0C689.8 594.2 691.6 593.4 693.5 592.6C695.3 591.8 697.1 591.0 699.0 590.2C700.8 589.4 702.7 588.6 704.5 587.8C706.4 587.0 708.2 586.2 710.1 585.5C711.9 584.7 713.8 583.9 715.6 583.2C717.5 582.4 719.4 581.7 721.2 580.9C723.1 580.2 725.0 579.5 726.9 578.8C728.8 578.1 730.6 577.4 732.5 576.8C734.4 576.1 736.3 575.4 738.2 574.8C740.1 574.2 742.0 573.6 743.9 573.0C745.9 572.4 747.8 571.8 749.7 571.3C751.6 570.7 753.6 570.2 755.5 569.7C757.4 569.2 759.4 568.8 761.3 568.3C763.3 567.9 765.2 567.5 767.2 567.1C769.1 566.7 771.1 566.3 773.1 566.0C775.0 565.6 777.0 565.3 779.0 565.0C781.0 564.7 783.0 564.5 784.9 564.3C786.9 564.0 788.9 563.8 790.9 563.7C792.9 563.5 794.9 563.4 796.9 563.3C798.9 563.2 800.8 563.1 802.8 563.0C804.8 563.0 806.8 563.0 808.8 563.0C810.8 563.0 812.8 563.1 814.8 563.2C816.8 563.3 818.8 563.4 820.8 563.6C822.8 563.7 824.8 563.9 826.8 564.1C828.8 564.4 830.8 564.6 832.8 564.9C834.8 565.2 836.8 565.4 838.8 565.7C840.8 566.0 842.8 566.3 844.8 566.5C846.7 566.8 848.7 567.0 850.7 567.1C852.7 567.3 854.7 567.5 856.7 567.6C858.7 567.7 860.7 567.8 862.7 567.8C864.7 567.8 866.7 567.9 868.7 567.9C870.7 567.9 872.7 567.9 874.7 567.8C876.7 567.8 878.7 567.8 880.7 567.7C882.7 567.7 884.7 567.6 886.7 567.6C888.7 567.5 890.7 567.5 892.7 567.4C894.7 567.4 896.7 567.3 898.7 567.3C900.7 567.3 902.7 567.3 904.7 567.3C906.7 567.3 908.7 567.3 910.7 567.3C912.7 567.3 914.7 567.3 916.7 567.3C918.7 567.4 920.7 567.4 922.7 567.5C924.7 567.5 926.7 567.6 928.7 567.6C930.7 567.7 932.7 567.7 934.7 567.8C936.7 567.9 938.7 567.9 940.7 568.0C942.7 568.1 944.7 568.2 946.7 568.2C948.7 568.3 950.7 568.4 952.7 568.5C954.7 568.6 956.7 568.7 958.7 568.7C960.7 568.8 962.7 568.9 964.7 569.0C966.8 569.1 968.8 569.1 970.8 569.2C972.8 569.3 974.8 569.4 976.8 569.4C978.8 569.5 980.8 569.6 982.8 569.6C984.8 569.7 986.8 569.7 988.8 569.8C990.8 569.8 992.8 569.9 994.8 569.9C996.8 569.9 998.8 570.0 1000.8 570.0C1002.8 570.0 1004.8 570.0 1006.8 570.0C1008.8 570.0 1010.8 570.0 1012.8 569.9C1014.8 569.9 1016.8 569.9 1018.8 569.8C1020.7 569.8 1022.7 569.7 1024.7 569.7C1026.7 569.6 1028.7 569.5 1030.7 569.4C1032.7 569.3 1034.7 569.2 1036.7 569.0C1038.7 568.9 1040.7 568.8 1042.7 568.6C1044.7 568.4 1046.7 568.3 1048.7 568.1C1050.7 567.9 1052.7 567.8 1054.7 567.6C1056.7 567.4 1058.7 567.2 1060.7 567.0C1062.6 566.8 1064.6 566.6 1066.6 566.4C1068.6 566.2 1070.6 566.0 1072.6 565.8C1074.6 565.6 1076.6 565.4 1078.6 565.2C1080.6 565.0 1082.6 564.8 1084.6 564.6C1086.6 564.4 1088.6 564.2 1090.6 564.1C1092.6 563.9 1094.6 563.7 1096.6 563.6C1098.6 563.4 1100.6 563.3 1102.5 563.1C1104.5 563.0 1106.5 562.9 1108.5 562.8C1110.5 562.7 1112.5 562.6 1114.5 562.5C1116.5 562.4 1118.5 562.4 1120.5 562.3C1122.5 562.3 1124.5 562.3 1126.5 562.3C1128.5 562.4 1130.5 562.4 1132.5 562.5C1134.5 562.6 1136.5 562.7 1138.5 562.8C1140.5 563.0 1142.5 563.1 1144.4 563.3C1146.4 563.6 1148.4 563.8 1150.4 564.1C1152.4 564.4 1154.3 564.7 1156.3 565.1C1158.3 565.4 1160.3 565.8 1162.2 566.1C1164.2 566.5 1166.2 566.8 1168.2 567.1C1170.2 567.4 1172.1 567.6 1174.1 567.7C1176.1 567.8 1178.1 567.9 1180.1 567.8" stroke="#00cc00"/>
<path d="M159.7 682.3C161.7 682.3 163.8 682.4 165.8 682.4C167.8 682.5 169.8 682.5 171.8 682.6C173.8 682.6 175.8 682.6 177.8 682.7C179.8 682.7 181.8 682.7 183.8 682.8C185.8 682.8 187.8 682.8 189.8 682.8C191.8 682.8 193.8 682.8 195.8 682.8C197.7 682.8 199.7 682.8 201.7 682.8C203.7 682.8 205.7 682.7 207.6 682.7C209.6 682.7 211.6 682.6 213.6 682.6C215.6 682.5 217.5 682.4 219.5 682.4C221.5 682.3 223.5 682.2 225.5 682.1C227.5 682.0 229.5 681.9 231.4 681.8C233.4 681.7 235.4 681.5 237.4 681.4C239.4 681.2 241.4 681.0 243.5 680.9C245.5 680.7 247.5 680.5 249.5 680.3C251.5 680.1 253.5 679.8 255.6 679.6C257.6 679.4 259.7 679.1 261.7 678.8C263.7 678.4 265.6 678.0 267.5 677.4C269.4 676.9 271.2 676.2 272.9 675.3C274.5 674.4 276.1 673.3 277.5 672.0C279.0 670.7 280.3 669.2 281.6 667.7C282.9 666.2 284.1 664.5 285.5 663.0C286.8 661.4 288.1 659.9 289.6 658.5C291.0 657.1 292.6 655.8 294.3 654.8C296.1 653.7 297.9 652.9 299.8 652.3C301.7 651.8 303.6 651.4 305.6 651.4C307.5 651.4 309.4 651.7 311.3 652.3C313.2 652.8 315.0 653.7 316.7 654.8C318.4 655.8 320.0 657.1 321.5 658.5C323.0 659.9 324.5 661.3 325.9 662.7C327.4 664.1 328.8 665.6 330.3 666.9C331.8 668.2 333.3 669.5 334.9 670.6C336.5 671.7 338.1 672.6 339.9 673.3C341.7 674.0 343.6 674.5 345.6 674.9C347.6 675.2 349.6 675.5 351.6 675.7C353.7 675.9 355.7 676.1 357.7 676.2C359.7 676.4 361.8 676.6 363.8 676.7C365.8 676.8 367.8 676.9 369.8 677.0C371.8 677.1 373.9 677.2 375.9 677.3C377.9 677.3 379.9 677.4 381.9 677.4C383.9 677.4 385.9 677.4 387.9 677.4C389.9 677.4 391.9 677.4 393.9 677.3C395.9 677.3 397.9 677.2 399.9 677.2C401.9 677.1 403.8 677.0 405.8 676.9C407.8 676.9 409.8 676.7 411.8 676.6C413.8 676.5 415.8 676.4 417.7 676.2C419.7 676.1 421.7 675.9 423.7 675.8C425.7 675.6 427.6 675.4 429.6 675.3C431.6 675.1 433.6 674.9 435.5 674.7C437.5 674.5 439.5 674.3 441.5 674.0C443.4 673.8 445.4 673.6 447.4 673.4C449.4 673.1 451.3 672.9 453.3 672.6C455.3 672.4 457.2 672.1 459.2 671.9C461.2 671.6 463.2 671.3 465.1 671.1C467.1 670.8 469.1 670.5 471.0 670.2C473.0 670.0 475.0 669.7 477.0 669.4C478.9 669.1 480.9 668.8 482.9 668.5C484.8 668.2 486.8 667.9 488.8 667.6C490.8 667.3 492.7 667.0 494.7 666.7C496.7 666.4 498.7 666.1 500.7 665.8C502.6 665.5 504.6 665.2 506.6 664.9C508.6 664.7 510.5 664.4 512.5 664.1C514.5 663.8 516.5 663.5 518.5 663.2C520.5 662.9 522.5 662.6 524.4 662.3C526.4 662.0 528.4 661.8 530.4 661.5C532.4 661.2 534.4 660.9 536.4 660.7C538.4 660.4 540.4 660.1 542.4 659.9C544.4 659.6 546.4 659.4 548.4 659.1C550.4 658.9 552.4 658.7 554.4 658.4C556.4 658.2 558.4 658.0 560.4 657.8C562.4 657.6 564.4 657.4 566.5 657.3C568.5 657.1 570.5 657.0 572.5 656.9C574.5 656.8 576.5 656.7 578.5 656.6C580.5 656.6 582.5 656.5 584.5 656.5C586.4 656.5 588.4 656.6 590.4 656.7C592.4 656.7 594.4 656.8 596.3 657.0C598.3 657.2 600.2 657.3 602.2 657.6C604.1 657.8 606.1 658.1 608.0 658.5C610.0 658.8 611.9 659.2 613.8 659.6C615.7 660.1 617.6 660.6 619.5 661.1C621.4 661.7 623.3 662.3 625.1 663.0C627.0 663.7 628.9 664.4 630.7 665.2C632.5 666.1 634.4 666.9 636.2 667.9C638.0 668.8 639.8 669.8 641.5 670.9C643.2 672.0 645.0 673.1 646.6 674.3C648.3 675.4 649.9 676.6 651.4 677.9C652.9 679.2 654.4 680.5 655.8 681.8C657.8 681.8 659.8 681.7 661.8 681.7C663.8 681.6 665.9 681.6 667.9 681.6C669.9 681.6 671.9 681.6 673.9 681.5C675.9 681.5 677.9 681.5 679.9 681.5C681.9 681.5 683.9 681.5 686.0 681.5C688.0 681.6 690.0 681.6 692.0 681.6C694.0 681.6 696.0 681.6 698.0 681.7C700.0 681.7 702.0 681.7 704.0 681.8C706.0 681.8 708.0 681.8 710.1 681.9C712.1 681.9 714.1 682.0 716.1 682.0C718.1 682.1 720.1 682.1 722.1 682.2C724.1 682.3 726.1 682.3 728.1 682.4C730.1 682.4 732.1 682.5 734.2 682.6C736.2 682.6 738.2 682.7 740.2 682.8C742.2 682.9 744.2 682.9 746.2 683.0C748.2 683.1 750.2 683.2 752.2 683.3C754.2 683.3 756.2 683.4 758.2 683.5C760.3 683.6 762.3 683.7 764.3 683.8C766.3 683.9 768.3 683.9 770.3 684.0C772.3 684.1 774.3 684.2 776.3 684.3C778.3 684.4 780.3 684.5 782.3 684.6C784.3 684.7 786.4 684.7 788.4 684.8C790.4 684.9 792.4 685.0 794.4 685.1C796.4 685.2 798.4 685.3 800.4 685.4C802.4 685.4 804.4 685.5 806.4 685.6C808.4 685.7 810.4 685.8 812.4 685.9C814.5 685.9 816.5 686.0 818.5 686.1C820.5 686.2 822.5 686.2 824.5 686.3C826.5 686.4 828.5 686.5 830.5 686.5C832.5 686.6 834.5 686.7 836.5 686.7C838.5 686.8 840.6 686.8 842.6 686.9C844.6 687.0 846.6 687.0 848.6 687.1C850.6 687.1 852.6 687.2 854.6 687.2C856.6 687.3 858.6 687.3 860.6 687.4C862.6 687.4 864.7 687.5 866.7 687.5C868.7 687.6 870.7 687.6 872.7 687.6C874.7 687.7 876.7 687.7 878.7 687.8C880.7 687.8 882.7 687.8 884.7 687.9C886.7 687.9 888.8 687.9 890.8 688.0C892.8 688.0 894.8 688.0 896.8 688.0C898.8 688.1 900.8 688.1 902.8 688.1C904.8 688.1 906.8 688.2 908.8 688.2C910.8 688.2 912.9 688.2 914.9 688.2C916.9 688.2 918.9 688.3 920.9 688.3C922.9 688.3 924.9 688.3 926.9 688.3C928.9 688.3 930.9 688.3 932.9 688.3C935.0 688.3 937.0 688.4 939.0 688.4C941.0 688.4 943.0 688.4 945.0 688.4C947.0 688.4 949.0 688.4 951.0 688.4C953.0 688.4 955.0 688.4 957.1 688.4C959.1 688.4 961.1 688.4 963.1 688.4C965.1 688.4 967.1 688.4 969.1 688.4C971.1 688.3 973.1 688.3 975.1 688.3C977.1 688.3 979.2 688.3 981.2 688.3C983.2 688.3 985.2 688.3 987.2 688.3C989.2 688.3 991.2 688.3 993.2 688.2C995.2 688.2 997.2 688.2 999.3 688.2C1001.3 688.2 1003.3 688.2 1005.3 688.2C1007.3 688.1 1009.3 688.1 1011.3 688.1C1013.3 688.1 1015.3 688.1 1017.3 688.1C1019.3 688.0 1021.4 688.0 1023.4 688.0C1025.4 688.0 1027.4 688.0 1029.4 688.0C1031.4 687.9 1033.4 687.9 1035.4 687.9C1037.4 687.9 1039.4 687.9 1041.5 687.8C1043.5 687.8 1045.5 687.8 1047.5 687.8C1049.5 687.7 1051.5 687.7 1053.5 687.7C1055.5 687.7 1057.5 687.7 1059.5 687.6C1061.5 687.6 1063.6 687.6 1065.6 687.6C1067.6 687.6 1069.6 687.5 1071.6 687.5C1073.6 687.5 1075.6 687.5 1077.6 687.4C1079.6 687.4 1081.6 687.4 1083.7 687.4C1085.7 687.3 1087.7 687.3 1089.7 687.3C1091.7 687.3 1093.7 687.3 1095.7 687.2C1097.7 687.2 1099.7 687.2 1101.7 687.2C1103.7 687.2 1105.8 687.1 1107.8 687.1C1109.8 687.1 1111.8 687.1 1113.8 687.1C1115.8 687.0 1117.8 687.0 1119.8 687.0C1121.8 687.0 1123.8 687.0 1125.9 686.9C1127.9 686.9 1129.9 686.9 1131.9 686.9C1133.9 686.9 1135.9 686.9 1137.9 686.8C1139.9 686.8 1141.9 686.8 1143.9 686.8C1145.9 686.8 1148.0 686.8 1150.0 686.7C1152.0 686.7 1154.0 686.7 1156.0 686.7C1158.0 686.7 1160.0 686.7 1162.0 686.7C1164.0 686.7 1166.0 686.7 1168.0 686.6C1170.1 686.6 1172.1 686.6 1174.1 686.6C1176.1 686.6 1178.1 686.6 1180.1 686.6" stroke="#ffc000"/>
<path d="M159.7 777.2C161.7 777.1 163.7 777.1 165.7 777.0C167.7 777.0 169.7 777.0 171.7 777.0C173.7 777.0 175.7 777.0 177.7 777.0C179.7 777.0 181.7 777.0 183.8 777.1C185.8 777.1 187.8 777.1 189.8 777.2C191.8 777.2 193.8 777.2 195.8 777.2C197.8 777.2 199.8 777.2 201.8 777.2C203.8 777.2 205.8 777.2 207.8 777.2C209.8 777.1 211.8 777.0 213.8 776.9C215.8 776.9 217.8 776.7 219.8 776.6C221.8 776.4 223.8 776.2 225.8 776.0C227.8 775.8 229.8 775.5 231.7 775.2C233.7 774.9 235.7 774.5 237.6 774.1C239.6 773.7 241.6 773.3 243.5 772.8C245.5 772.3 247.4 771.7 249.3 771.1C251.2 770.5 253.1 769.9 255.0 769.2C256.9 768.4 258.8 767.7 260.6 766.8C262.4 766.0 264.3 765.1 266.0 764.2C267.8 763.2 269.5 762.1 271.1 760.9C272.6 759.7 274.1 758.4 275.5 757.0C276.8 755.6 278.1 754.1 279.3 752.5C280.5 751.0 281.6 749.3 282.7 747.6C283.8 745.9 284.8 744.1 285.8 742.3C286.8 740.5 287.7 738.7 288.6 736.9C289.5 735.1 290.4 733.2 291.3 731.4C292.2 729.6 293.1 727.7 294.0 726.0C294.9 724.2 295.8 722.4 296.8 720.7C297.7 718.9 298.7 717.2 299.7 715.5C300.7 713.9 301.8 712.2 302.9 710.6C304.0 709.0 305.1 707.4 306.4 705.9C307.6 704.4 308.9 702.9 310.3 701.4C311.6 699.9 313.1 698.5 314.7 697.2C316.2 695.8 317.9 694.5 319.6 693.2C321.3 692.0 323.1 690.9 325.0 689.9C326.8 688.9 328.7 688.1 330.6 687.5C332.5 686.9 334.5 686.5 336.4 686.4C338.3 686.3 340.3 686.5 342.2 686.9C344.1 687.3 346.0 687.9 347.9 688.5C349.8 689.1 351.7 689.8 353.6 690.4C355.4 691.0 357.3 691.7 359.2 692.3C361.1 692.9 363.0 693.6 364.9 694.2C366.8 694.9 368.7 695.5 370.6 696.2C372.5 696.9 374.4 697.5 376.2 698.2C378.1 698.9 380.0 699.6 381.9 700.2C383.8 700.9 385.7 701.6 387.5 702.3C389.4 703.0 391.3 703.7 393.2 704.4C395.1 705.1 396.9 705.9 398.8 706.6C400.7 707.3 402.5 708.1 404.4 708.8C406.3 709.6 408.1 710.3 410.0 711.1C411.9 711.8 413.7 712.6 415.6 713.3C417.5 714.1 419.3 714.9 421.2 715.6C423.1 716.4 424.9 717.1 426.8 717.9C428.6 718.6 430.5 719.3 432.4 720.1C434.3 720.8 436.1 721.5 438.0 722.2C439.9 722.9 441.8 723.6 443.6 724.3C445.5 725.0 447.4 725.6 449.3 726.2C451.2 726.9 453.1 727.5 455.0 728.1C456.9 728.7 458.8 729.3 460.7 729.8C462.7 730.3 464.6 730.9 466.5 731.3C468.4 731.8 470.4 732.3 472.3 732.7C474.3 733.1 476.2 733.5 478.2 733.9C480.2 734.2 482.1 734.6 484.1 734.9C486.1 735.2 488.1 735.5 490.0 735.7C492.0 736.0 494.0 736.3 496.0 736.5C498.0 736.8 500.0 737.0 502.0 737.3C504.0 737.5 506.0 737.8 508.0 738.0C510.0 738.3 512.0 738.6 514.0 738.8C516.0 739.1 518.0 739.4 520.0 739.8C522.0 740.1 524.0 740.5 526.0 740.9C527.9 741.2 529.9 741.7 531.9 742.1C533.9 742.5 535.8 742.9 537.8 743.2C539.8 743.6 541.8 744.0 543.7 744.3C545.7 744.6 547.7 744.8 549.7 745.0C551.7 745.2 553.6 745.3 555.6 745.4C557.6 745.5 559.6 745.5 561.6 745.5C563.5 745.5 565.5 745.4 567.5 745.3C569.5 745.2 571.5 745.0 573.5 744.8C575.4 744.7 577.4 744.4 579.4 744.2C581.4 743.9 583.4 743.7 585.4 743.4C587.4 743.1 589.4 742.8 591.4 742.4C593.3 742.1 595.3 741.8 597.3 741.4C599.3 741.0 601.3 740.7 603.3 740.3C605.3 739.9 607.3 739.6 609.2 739.2C611.2 738.8 613.2 738.5 615.2 738.1C617.2 737.8 619.2 737.4 621.2 737.1C623.2 736.7 625.1 736.4 627.1 736.1C629.1 735.8 631.1 735.5 633.1 735.2C635.0 734.9 637.0 734.7 639.0 734.4C641.0 734.1 643.0 733.8 644.9 733.5C646.9 733.3 648.9 733.0 650.9 732.7C652.8 732.4 654.8 732.1 656.8 731.8C658.8 731.5 660.7 731.2 662.7 730.9C664.7 730.6 666.6 730.3 668.6 729.9C670.6 729.6 672.5 729.2 674.5 728.8C676.5 728.5 678.4 728.1 680.4 727.6C682.4 727.2 684.3 726.8 686.3 726.3C688.2 725.9 690.2 725.4 692.2 724.9C694.1 724.5 696.1 724.0 698.0 723.5C700.0 723.0 702.0 722.6 703.9 722.1C705.9 721.7 707.8 721.2 709.8 720.8C711.8 720.4 713.7 720.0 715.7 719.6C717.7 719.2 719.7 718.8 721.6 718.5C723.6 718.2 725.6 717.8 727.6 717.5C729.5 717.2 731.5 716.9 733.5 716.7C735.5 716.4 737.5 716.2 739.4 715.9C741.4 715.7 743.4 715.5 745.4 715.3C747.4 715.1 749.4 714.9 751.4 714.8C753.4 714.6 755.4 714.5 757.4 714.4C759.3 714.3 761.3 714.2 763.3 714.1C765.3 714.0 767.3 714.0 769.3 713.9C771.3 713.9 773.3 713.9 775.3 713.9C777.3 713.9 779.3 713.9 781.4 713.9C783.4 714.0 785.4 714.0 787.4 714.1C789.4 714.2 791.4 714.3 793.4 714.4C795.4 714.5 797.4 714.6 799.4 714.8C801.4 714.9 803.4 715.1 805.5 715.2C807.5 715.4 809.5 715.6 811.5 715.9C813.5 716.1 815.5 716.3 817.5 716.6C819.5 716.9 821.5 717.2 823.5 717.5C825.5 717.9 827.4 718.2 829.4 718.7C831.4 719.1 833.3 719.5 835.3 720.0C837.2 720.5 839.1 721.0 841.1 721.5C843.0 722.1 844.9 722.7 846.8 723.3C848.6 724.0 850.5 724.7 852.4 725.4C854.2 726.1 856.0 726.9 857.8 727.8C859.7 728.6 861.4 729.5 863.2 730.4C865.0 731.4 866.7 732.4 868.4 733.5C870.1 734.5 871.8 735.6 873.5 736.8C875.1 738.0 876.7 739.2 878.3 740.5C879.9 741.8 881.4 743.1 882.9 744.4C884.4 745.8 885.9 747.2 887.3 748.6C888.7 750.0 890.0 751.4 891.3 752.9C892.7 754.3 894.0 755.8 895.3 757.4C896.6 758.9 897.8 760.5 899.1 762.1C900.4 763.7 901.7 765.3 903.1 766.9C904.4 768.4 905.8 770.0 907.2 771.4C908.7 772.8 910.2 774.1 911.7 775.3C913.3 776.4 915.0 777.4 916.7 778.3C918.5 779.3 920.3 780.0 922.1 780.7C923.9 781.4 925.8 782.0 927.8 782.6C929.7 783.1 931.6 783.5 933.6 783.9C935.6 784.3 937.6 784.6 939.6 784.9C941.7 785.2 943.7 785.5 945.7 785.8C947.7 786.0 949.8 786.2 951.8 786.5C953.8 786.7 955.8 786.9 957.8 787.1C959.8 787.3 961.8 787.5 963.8 787.7C965.8 787.8 967.8 788.0 969.8 788.1C971.8 788.3 973.8 788.4 975.8 788.6C977.8 788.7 979.8 788.8 981.8 789.0C983.8 789.1 985.8 789.2 987.8 789.3C989.8 789.4 991.8 789.5 993.8 789.6C995.8 789.6 997.7 789.7 999.7 789.8C1001.7 789.9 1003.7 789.9 1005.7 790.0C1007.7 790.0 1009.7 790.1 1011.7 790.1C1013.7 790.2 1015.7 790.2 1017.7 790.2C1019.7 790.3 1021.7 790.3 1023.7 790.3C1025.8 790.3 1027.8 790.4 1029.8 790.4C1031.8 790.4 1033.8 790.4 1035.8 790.4C1037.8 790.4 1039.8 790.4 1041.8 790.4C1043.8 790.3 1045.8 790.3 1047.8 790.3C1049.8 790.3 1051.8 790.3 1053.8 790.3C1055.8 790.2 1057.8 790.2 1059.8 790.2C1061.8 790.1 1063.8 790.1 1065.8 790.1C1067.8 790.0 1069.8 790.0 1071.9 789.9C1073.9 789.9 1075.9 789.8 1077.9 789.8C1079.9 789.7 1081.9 789.7 1083.9 789.6C1085.9 789.6 1087.9 789.5 1089.9 789.5C1091.9 789.4 1093.9 789.4 1095.9 789.3C1097.9 789.3 1099.9 789.2 1102.0 789.1C1104.0 789.1 1106.0 789.0 1108.0 789.0C1110.0 788.9 1112.0 788.9 1114.0 788.8C1116.0 788.7 1118.0 788.7 1120.0 788.6C1122.0 788.6 1124.0 788.5 1126.0 788.5C1128.0 788.4 1130.0 788.3 1132.0 788.3C1134.0 788.2 1136.0 788.2 1138.1 788.1C1140.1 788.1 1142.1 788.0 1144.1 788.0C1146.1 787.9 1148.1 787.9 1150.1 787.9C1152.1 787.8 1154.1 787.8 1156.1 787.7C1158.1 787.7 1160.1 787.7 1162.1 787.7C1164.1 787.6 1166.1 787.6 1168.1 787.6C1170.1 787.6 1172.1 787.5 1174.1 787.5C1176.1 787.5 1178.1 787.5 1180.1 787.5" stroke="#ff0000"/>
</g>
<g fill="none" stroke-linejoin="round" stroke-linecap="butt" shape-rendering="crispEdges" stroke-width="11.8" clip-path="url(#cr)">
<path d="M1359.2 844.3C1361.2 844.5 1363.2 844.5 1365.2 844.4C1367.2 844.3 1369.3 844.1 1371.3 843.8C1373.3 843.6 1375.3 843.3 1377.2 843.1C1379.2 842.8 1381.2 842.5 1383.2 842.3C1385.1 842.0 1387.1 841.7 1389.1 841.4C1391.0 841.2 1393.0 840.9 1395.0 840.6C1396.9 840.4 1398.9 840.1 1400.9 839.9C1402.9 839.6 1404.9 839.4 1406.9 839.2C1408.9 838.9 1410.9 838.7 1412.9 838.5C1414.9 838.3 1417.0 838.2 1419.0 838.0C1421.1 837.8 1423.1 837.6 1425.2 837.4C1427.2 837.2 1429.2 837.0 1431.2 836.7C1433.3 836.3 1435.2 836.0 1437.2 835.5C1439.1 835.0 1441.0 834.5 1442.8 833.8C1444.6 833.1 1446.4 832.3 1448.1 831.4C1449.8 830.5 1451.4 829.4 1453.0 828.2C1454.6 827.1 1456.2 825.8 1457.7 824.5C1459.1 823.2 1460.6 821.8 1462.0 820.3C1463.4 818.9 1464.8 817.4 1466.2 815.9C1467.5 814.3 1468.9 812.8 1470.2 811.2C1471.5 809.6 1472.8 808.0 1474.1 806.4C1475.4 804.9 1476.7 803.3 1478.0 801.7C1479.3 800.1 1480.6 798.5 1481.9 796.9C1483.2 795.4 1484.5 793.8 1485.8 792.3C1487.1 790.8 1488.4 789.3 1489.8 787.8C1491.1 786.3 1492.5 784.9 1493.9 783.5C1495.3 782.1 1496.7 780.7 1498.2 779.4C1499.7 778.1 1501.2 776.8 1502.7 775.6C1504.3 774.4 1505.8 773.2 1507.5 772.2C1509.1 771.1 1510.8 770.1 1512.5 769.1C1514.3 768.2 1516.1 767.3 1518.0 766.5C1519.8 765.7 1521.7 765.0 1523.7 764.4C1525.7 763.8 1527.7 763.3 1529.7 762.9C1531.7 762.6 1533.8 762.3 1535.8 762.2C1537.9 762.1 1539.9 762.2 1541.9 762.4C1543.9 762.6 1545.9 763.0 1547.8 763.5C1549.8 764.0 1551.7 764.7 1553.6 765.4C1555.4 766.1 1557.2 767.0 1559.0 768.0C1560.7 768.9 1562.4 769.9 1564.1 771.0C1565.7 772.2 1567.3 773.3 1568.8 774.6C1570.4 775.8 1571.9 777.1 1573.4 778.4C1574.9 779.7 1576.4 781.0 1577.8 782.4C1579.3 783.7 1580.8 785.1 1582.3 786.5C1583.8 787.8 1585.3 789.2 1586.8 790.5C1588.4 791.9 1589.9 793.2 1591.5 794.5C1593.1 795.8 1594.7 797.1 1596.3 798.3C1597.9 799.6 1599.6 800.8 1601.2 802.0C1602.9 803.2 1604.6 804.3 1606.2 805.5C1607.9 806.6 1609.6 807.7 1611.4 808.7C1613.1 809.7 1614.8 810.7 1616.6 811.7C1618.3 812.6 1620.1 813.5 1621.9 814.4C1623.7 815.3 1625.5 816.1 1627.3 816.9C1629.1 817.7 1630.9 818.5 1632.8 819.2C1634.6 820.0 1636.4 820.7 1638.3 821.3C1640.2 822.0 1642.0 822.6 1643.9 823.2C1645.8 823.8 1647.7 824.4 1649.6 825.0C1651.5 825.5 1653.4 826.0 1655.3 826.5C1657.3 827.0 1659.2 827.4 1661.1 827.9C1663.1 828.3 1665.0 828.7 1667.0 829.1C1668.9 829.5 1670.9 829.8 1672.9 830.2C1674.8 830.5 1676.8 830.8 1678.8 831.1C1680.8 831.4 1682.8 831.6 1684.8 831.9C1686.8 832.1 1688.8 832.4 1690.8 832.6C1692.8 832.8 1694.8 833.0 1696.8 833.2C1698.8 833.3 1700.8 833.5 1702.9 833.6C1704.9 833.8 1706.9 833.9 1708.9 834.0C1710.9 834.2 1713.0 834.3 1715.0 834.4C1717.0 834.5 1719.1 834.5 1721.1 834.6C1723.1 834.7 1725.1 834.8 1727.2 834.8C1729.2 834.9 1731.2 834.9 1733.3 835.0C1735.3 835.0 1737.3 835.1 1739.3 835.1C1741.4 835.1 1743.4 835.2 1745.4 835.2C1747.4 835.2 1749.5 835.2 1751.5 835.2C1753.5 835.2 1755.5 835.2 1757.5 835.2C1759.6 835.3 1761.6 835.2 1763.6 835.2C1765.6 835.2 1767.6 835.2 1769.6 835.2C1771.7 835.2 1773.7 835.2 1775.7 835.1C1777.7 835.1 1779.7 835.1 1781.7 835.1C1783.7 835.0 1785.7 835.0 1787.7 835.0C1789.8 834.9 1791.8 834.9 1793.8 834.8C1795.8 834.8 1797.8 834.7 1799.8 834.7C1801.8 834.6 1803.8 834.5 1805.8 834.5C1807.8 834.4 1809.8 834.4 1811.8 834.3C1813.8 834.2 1815.8 834.1 1817.8 834.1C1819.8 834.0 1821.8 833.9 1823.8 833.8C1825.8 833.8 1827.8 833.7 1829.8 833.6C1831.8 833.5 1833.8 833.4 1835.8 833.3C1837.8 833.2 1839.8 833.1 1841.8 833.0C1843.8 833.0 1845.8 832.9 1847.8 832.8C1849.8 832.7 1851.8 832.6 1853.8 832.5C1855.8 832.3 1857.8 832.2 1859.8 832.1C1861.8 832.0 1863.8 831.9 1865.8 831.8C1867.8 831.7 1869.8 831.6 1871.8 831.5C1873.8 831.4 1875.8 831.3 1877.8 831.1C1879.8 831.0 1881.7 830.9 1883.7 830.8C1885.7 830.7 1887.7 830.6 1889.7 830.4C1891.7 830.3 1893.7 830.2 1895.7 830.1C1897.7 830.0 1899.7 829.9 1901.7 829.7C1903.7 829.6 1905.7 829.5 1907.7 829.4C1909.7 829.3 1911.7 829.1 1913.7 829.0C1915.7 828.9 1917.7 828.8 1919.7 828.7C1921.7 828.5 1923.7 828.4 1925.7 828.3C1927.7 828.2 1929.7 828.1 1931.7 828.0C1933.7 827.8 1935.7 827.7 1937.7 827.6C1939.7 827.5 1941.7 827.4 1943.7 827.3C1945.7 827.1 1947.7 827.0 1949.7 826.9C1951.7 826.8 1953.7 826.7 1955.7 826.6C1957.7 826.5 1959.7 826.4 1961.8 826.3C1963.8 826.2 1965.8 826.1 1967.8 826.0C1969.8 825.9 1971.8 825.8 1973.8 825.7C1975.8 825.6 1977.8 825.5 1979.9 825.4C1981.9 825.3 1983.9 825.2 1985.9 825.1C1987.9 825.0 1989.9 824.9 1991.9 824.8C1994.0 824.8 1996.0 824.7 1998.0 824.6" stroke="#080808"/>
<path d="M1359.2 463.8C1361.3 464.0 1363.3 464.1 1365.4 464.1C1367.4 464.2 1369.5 464.2 1371.5 464.1C1373.5 464.0 1375.5 463.8 1377.4 463.6C1379.4 463.4 1381.4 463.1 1383.3 462.7C1385.3 462.4 1387.2 462.0 1389.1 461.5C1391.0 461.1 1393.0 460.6 1394.9 460.0C1396.8 459.5 1398.6 458.9 1400.5 458.3C1402.4 457.6 1404.3 457.0 1406.1 456.2C1408.0 455.5 1409.8 454.8 1411.7 454.0C1413.5 453.2 1415.4 452.4 1417.2 451.5C1419.1 450.7 1420.9 449.8 1422.7 448.9C1424.5 448.0 1426.3 447.0 1428.1 446.1C1429.9 445.1 1431.6 444.1 1433.4 443.0C1435.1 442.0 1436.8 440.9 1438.5 439.7C1440.1 438.6 1441.7 437.4 1443.3 436.1C1444.9 434.9 1446.4 433.6 1447.9 432.3C1449.4 431.0 1450.8 429.6 1452.2 428.2C1453.5 426.7 1454.8 425.2 1456.1 423.7C1457.3 422.1 1458.5 420.6 1459.7 418.9C1460.8 417.3 1461.9 415.7 1463.1 414.0C1464.2 412.3 1465.3 410.7 1466.4 409.0C1467.5 407.3 1468.6 405.6 1469.8 404.0C1470.9 402.3 1472.1 400.7 1473.3 399.1C1474.5 397.5 1475.7 395.8 1476.9 394.2C1478.2 392.6 1479.3 391.0 1480.5 389.4C1481.7 387.7 1482.8 386.1 1483.9 384.4C1485.0 382.7 1486.1 381.0 1487.1 379.3C1488.1 377.6 1489.1 375.8 1490.0 374.0C1490.9 372.3 1491.8 370.5 1492.7 368.7C1493.6 366.9 1494.4 365.1 1495.2 363.2C1496.0 361.4 1496.8 359.5 1497.5 357.7C1498.2 355.8 1499.0 354.0 1499.7 352.1C1500.4 350.2 1501.1 348.3 1501.7 346.4C1502.4 344.6 1503.1 342.7 1503.7 340.8C1504.4 338.9 1505.0 337.0 1505.6 335.1C1506.2 333.2 1506.8 331.3 1507.4 329.4C1508.0 327.5 1508.6 325.5 1509.1 323.6C1509.7 321.7 1510.2 319.8 1510.8 317.9C1511.3 315.9 1511.8 314.0 1512.4 312.1C1512.9 310.1 1513.4 308.2 1513.9 306.3C1514.4 304.3 1514.9 302.4 1515.4 300.4C1515.8 298.5 1516.3 296.5 1516.8 294.6C1517.2 292.6 1517.7 290.7 1518.1 288.7C1518.6 286.8 1519.0 284.8 1519.5 282.9C1519.9 280.9 1520.3 278.9 1520.8 277.0C1521.2 275.0 1521.6 273.1 1522.0 271.1C1522.4 269.1 1522.9 267.2 1523.3 265.2C1523.7 263.2 1524.1 261.3 1524.5 259.3C1524.9 257.3 1525.3 255.4 1525.7 253.4C1526.1 251.4 1526.5 249.5 1526.9 247.5C1527.3 245.5 1527.7 243.6 1528.1 241.6C1528.5 239.6 1528.9 237.7 1529.3 235.7C1529.7 233.7 1530.1 231.8 1530.6 229.8C1531.0 227.9 1531.4 225.9 1531.8 223.9C1532.2 222.0 1532.6 220.0 1533.1 218.0C1533.5 216.1 1533.9 214.1 1534.4 212.2C1534.8 210.2 1535.2 208.3 1535.7 206.3C1536.1 204.4 1536.6 202.4 1537.0 200.5C1537.5 198.5 1538.0 196.6 1538.5 194.6C1538.9 192.7 1539.4 190.8 1539.9 188.8C1540.4 186.9 1540.9 185.0 1541.5 183.0C1542.0 181.1 1542.5 179.2 1543.1 177.3C1543.6 175.3 1544.2 173.4 1544.8 171.5C1545.4 169.6 1546.0 167.7 1546.6 165.8C1547.3 163.9 1547.9 162.0 1548.6 160.1C1549.3 158.2 1550.0 156.3 1550.7 154.5C1551.4 152.6 1552.2 150.7 1553.0 148.9C1553.8 147.0 1554.6 145.1 1555.5 143.3C1556.4 141.5 1557.3 139.7 1558.4 138.0C1559.4 136.3 1560.6 134.6 1561.9 133.1C1563.2 131.6 1564.6 130.1 1566.2 128.8C1567.9 127.5 1569.6 126.4 1571.4 125.8C1573.3 125.2 1575.1 125.1 1576.8 125.7C1578.6 126.3 1580.2 127.5 1581.7 128.8C1583.2 130.2 1584.4 131.7 1585.5 133.4C1586.7 135.0 1587.6 136.8 1588.5 138.6C1589.3 140.5 1590.0 142.4 1590.7 144.3C1591.4 146.3 1592.0 148.2 1592.6 150.2C1593.2 152.1 1593.7 154.1 1594.3 156.0C1594.8 158.0 1595.3 159.9 1595.8 161.9C1596.3 163.8 1596.8 165.8 1597.2 167.7C1597.7 169.6 1598.2 171.6 1598.6 173.5C1599.0 175.5 1599.5 177.4 1599.9 179.4C1600.3 181.3 1600.7 183.3 1601.2 185.2C1601.6 187.1 1602.0 189.1 1602.4 191.0C1602.9 193.0 1603.3 194.9 1603.8 196.9C1604.2 198.8 1604.7 200.8 1605.1 202.7C1605.6 204.7 1606.1 206.6 1606.6 208.6C1607.0 210.5 1607.5 212.5 1608.0 214.4C1608.4 216.4 1608.9 218.3 1609.3 220.3C1609.8 222.3 1610.2 224.2 1610.6 226.2C1611.0 228.2 1611.4 230.1 1611.8 232.1C1612.1 234.1 1612.5 236.1 1612.9 238.0C1613.3 240.0 1613.6 242.0 1614.0 244.0C1614.4 245.9 1614.8 247.9 1615.2 249.9C1615.6 251.8 1616.0 253.8 1616.4 255.8C1616.8 257.7 1617.3 259.7 1617.7 261.6C1618.2 263.6 1618.7 265.5 1619.2 267.5C1619.6 269.4 1620.1 271.3 1620.7 273.3C1621.2 275.2 1621.7 277.1 1622.2 279.0C1622.8 281.0 1623.3 282.9 1623.9 284.8C1624.5 286.7 1625.1 288.6 1625.7 290.5C1626.3 292.4 1626.9 294.3 1627.5 296.2C1628.1 298.1 1628.7 300.0 1629.4 301.9C1630.0 303.8 1630.7 305.7 1631.3 307.6C1632.0 309.5 1632.7 311.3 1633.4 313.2C1634.0 315.1 1634.7 317.0 1635.4 318.8C1636.2 320.7 1636.9 322.6 1637.6 324.4C1638.3 326.3 1639.1 328.2 1639.8 330.0C1640.5 331.9 1641.3 333.8 1642.0 335.6C1642.8 337.5 1643.6 339.3 1644.3 341.2C1645.1 343.0 1645.9 344.9 1646.7 346.7C1647.5 348.6 1648.3 350.4 1649.1 352.3C1649.9 354.1 1650.7 356.0 1651.5 357.8C1652.3 359.6 1653.1 361.5 1654.0 363.3C1654.8 365.1 1655.7 367.0 1656.5 368.8C1657.4 370.6 1658.2 372.4 1659.1 374.2C1660.0 376.0 1660.9 377.8 1661.8 379.6C1662.8 381.4 1663.7 383.2 1664.6 384.9C1665.6 386.7 1666.6 388.4 1667.6 390.2C1668.6 391.9 1669.6 393.6 1670.6 395.3C1671.7 397.0 1672.7 398.7 1673.8 400.4C1674.9 402.1 1676.0 403.7 1677.1 405.4C1678.3 407.0 1679.4 408.6 1680.6 410.3C1681.8 411.9 1683.0 413.5 1684.2 415.0C1685.4 416.6 1686.7 418.2 1687.9 419.7C1689.2 421.3 1690.5 422.8 1691.8 424.3C1693.1 425.8 1694.4 427.3 1695.7 428.8C1697.1 430.3 1698.4 431.8 1699.8 433.2C1701.2 434.7 1702.6 436.1 1704.0 437.5C1705.4 438.9 1706.9 440.3 1708.3 441.7C1709.8 443.1 1711.3 444.5 1712.8 445.8C1714.3 447.2 1715.8 448.5 1717.3 449.9C1718.8 451.2 1720.4 452.5 1721.9 453.8C1723.5 455.1 1725.0 456.3 1726.6 457.6C1728.2 458.8 1729.9 460.0 1731.5 461.2C1733.1 462.3 1734.8 463.4 1736.5 464.5C1738.2 465.5 1739.9 466.5 1741.7 467.4C1743.5 468.3 1745.3 469.1 1747.1 469.8C1749.0 470.5 1750.8 471.2 1752.7 471.7C1754.7 472.3 1756.6 472.7 1758.5 473.2C1760.5 473.6 1762.5 474.0 1764.5 474.3C1766.5 474.6 1768.5 474.9 1770.5 475.2C1772.5 475.4 1774.5 475.7 1776.5 475.9C1778.6 476.1 1780.6 476.3 1782.6 476.6C1784.6 476.8 1786.6 477.0 1788.6 477.2C1790.6 477.4 1792.6 477.6 1794.6 477.8C1796.6 478.0 1798.6 478.2 1800.5 478.3C1802.5 478.4 1804.5 478.5 1806.5 478.5C1808.5 478.5 1810.5 478.5 1812.4 478.4C1814.4 478.3 1816.4 478.2 1818.4 477.9C1820.4 477.7 1822.4 477.4 1824.4 477.0C1826.3 476.2 1828.2 475.5 1830.1 474.8C1832.0 474.1 1833.9 473.5 1835.8 472.8C1837.7 472.2 1839.7 471.6 1841.6 471.1C1843.5 470.5 1845.5 470.0 1847.4 469.5C1849.3 469.1 1851.3 468.6 1853.3 468.2C1855.2 467.8 1857.2 467.4 1859.1 467.0C1861.1 466.6 1863.1 466.3 1865.1 466.0C1867.0 465.7 1869.0 465.4 1871.0 465.1C1873.0 464.8 1875.0 464.6 1877.0 464.4C1879.0 464.2 1881.0 464.0 1883.0 463.8C1885.0 463.6 1887.0 463.5 1889.0 463.3C1891.0 463.2 1893.0 463.1 1895.1 463.0C1897.1 462.8 1899.1 462.8 1901.1 462.7C1903.1 462.6 1905.2 462.5 1907.2 462.5C1909.2 462.5 1911.2 462.4 1913.3 462.4C1915.3 462.4 1917.3 462.3 1919.4 462.3C1921.4 462.3 1923.4 462.3 1925.4 462.3C1927.5 462.3 1929.5 462.4 1931.5 462.4C1933.6 462.4 1935.6 462.4 1937.6 462.4C1939.7 462.5 1941.7 462.5 1943.7 462.5C1945.8 462.5 1947.8 462.6 1949.8 462.6C1951.9 462.6 1953.9 462.7 1955.9 462.7C1957.9 462.7 1960.0 462.7 1962.0 462.7C1964.0 462.7 1966.0 462.8 1968.0 462.8C1970.0 462.8 1972.1 462.8 1974.1 462.7C1976.1 462.7 1978.1 462.7 1980.1 462.7C1982.1 462.6 1984.1 462.6 1986.1 462.5C1988.1 462.5 1990.1 462.4 1992.1 462.3C1994.0 462.2 1996.0 462.1 1998.0 462.0" stroke="#00ffff"/>
<path d="M1359.1 595.5C1361.1 595.5 1363.0 595.5 1365.0 595.4C1367.0 595.4 1369.0 595.4 1371.0 595.4C1372.9 595.4 1374.9 595.4 1377.0 595.3C1379.0 595.3 1381.0 595.3 1383.0 595.2C1385.0 595.2 1387.0 595.1 1389.0 595.1C1391.1 595.0 1393.1 594.9 1395.1 594.8C1397.1 594.7 1399.1 594.6 1401.1 594.4C1403.1 594.2 1405.1 594.0 1407.1 593.8C1409.1 593.6 1411.1 593.3 1413.1 593.1C1415.1 592.8 1417.0 592.4 1419.0 592.1C1420.9 591.7 1422.9 591.3 1424.8 590.8C1426.7 590.3 1428.6 589.8 1430.5 589.2C1432.4 588.7 1434.3 588.0 1436.2 587.4C1438.0 586.7 1439.9 586.0 1441.7 585.2C1443.5 584.4 1445.3 583.6 1447.1 582.8C1449.0 581.9 1450.8 581.0 1452.5 580.1C1454.3 579.2 1456.1 578.3 1457.9 577.4C1459.7 576.4 1461.5 575.5 1463.3 574.5C1465.0 573.5 1466.8 572.6 1468.6 571.6C1470.4 570.6 1472.2 569.7 1474.0 568.7C1475.7 567.7 1477.5 566.7 1479.2 565.6C1480.9 564.6 1482.5 563.4 1484.1 562.2C1485.7 561.0 1487.2 559.7 1488.6 558.4C1490.1 557.1 1491.4 555.7 1492.8 554.2C1494.1 552.7 1495.3 551.2 1496.5 549.6C1497.8 548.1 1498.9 546.5 1500.0 544.8C1501.1 543.2 1502.2 541.5 1503.2 539.7C1504.2 538.0 1505.2 536.2 1506.1 534.4C1507.0 532.6 1507.9 530.8 1508.7 529.0C1509.6 527.2 1510.4 525.3 1511.2 523.4C1511.9 521.6 1512.7 519.7 1513.4 517.8C1514.1 515.9 1514.8 514.1 1515.5 512.2C1516.1 510.3 1516.8 508.4 1517.4 506.5C1518.0 504.6 1518.6 502.7 1519.2 500.8C1519.8 499.0 1520.4 497.1 1521.0 495.2C1521.5 493.3 1522.1 491.4 1522.6 489.5C1523.2 487.6 1523.8 485.6 1524.3 483.7C1524.9 481.8 1525.4 479.9 1526.0 478.0C1526.6 476.1 1527.1 474.1 1527.7 472.2C1528.3 470.3 1528.8 468.3 1529.4 466.4C1530.0 464.5 1530.5 462.6 1531.1 460.6C1531.6 458.7 1532.2 456.8 1532.7 454.8C1533.3 452.9 1533.8 451.0 1534.4 449.0C1534.9 447.1 1535.5 445.2 1536.0 443.2C1536.5 441.3 1537.0 439.4 1537.5 437.5C1538.0 435.6 1538.5 433.6 1539.0 431.7C1539.4 429.8 1539.9 427.9 1540.4 426.0C1540.8 424.1 1541.3 422.2 1541.8 420.3C1542.2 418.3 1542.7 416.4 1543.2 414.4C1543.7 412.5 1544.3 410.5 1544.8 408.5C1545.4 406.5 1546.0 404.5 1546.7 402.5C1547.5 400.5 1548.3 398.6 1549.5 396.8C1550.6 395.1 1552.1 393.4 1553.6 392.2C1555.2 390.9 1556.8 390.1 1558.4 390.2C1560.0 390.2 1561.5 391.0 1562.9 392.3C1564.2 393.6 1565.5 395.3 1566.7 397.0C1567.8 398.7 1568.9 400.4 1569.8 402.2C1570.8 404.0 1571.7 405.8 1572.4 407.7C1573.2 409.5 1574.0 411.4 1574.6 413.3C1575.3 415.2 1576.0 417.1 1576.6 419.0C1577.2 420.9 1577.7 422.9 1578.3 424.8C1578.8 426.8 1579.4 428.7 1580.0 430.6C1580.5 432.6 1581.1 434.5 1581.7 436.4C1582.3 438.3 1582.9 440.2 1583.6 442.1C1584.2 444.0 1584.9 445.9 1585.6 447.8C1586.3 449.6 1587.0 451.5 1587.8 453.3C1588.5 455.2 1589.3 457.0 1590.1 458.8C1590.9 460.6 1591.8 462.4 1592.7 464.2C1593.5 466.0 1594.5 467.8 1595.4 469.5C1596.3 471.3 1597.3 473.0 1598.3 474.7C1599.4 476.4 1600.4 478.1 1601.5 479.8C1602.6 481.5 1603.7 483.2 1604.9 484.8C1606.1 486.4 1607.3 488.0 1608.6 489.6C1609.8 491.1 1611.1 492.7 1612.5 494.2C1613.8 495.6 1615.2 497.1 1616.7 498.5C1618.1 499.9 1619.6 501.2 1621.1 502.5C1622.6 503.8 1624.2 505.0 1625.8 506.2C1627.5 507.3 1629.1 508.4 1630.8 509.5C1632.6 510.5 1634.3 511.4 1636.1 512.3C1637.9 513.2 1639.7 514.0 1641.6 514.7C1643.4 515.4 1645.3 516.1 1647.2 516.6C1649.1 517.1 1651.1 517.6 1653.1 518.0C1655.0 518.3 1657.0 518.6 1659.0 518.8C1661.0 519.1 1663.0 519.2 1665.0 519.3C1667.0 519.4 1669.1 519.4 1671.1 519.4C1673.1 519.3 1675.1 519.3 1677.2 519.1C1679.2 519.0 1681.2 518.9 1683.2 518.7C1685.2 518.5 1687.2 518.3 1689.2 518.0C1691.2 517.8 1693.2 517.5 1695.1 517.2C1697.1 516.9 1699.0 516.6 1701.0 516.3C1702.9 516.0 1704.9 515.6 1706.8 515.3C1708.8 514.9 1710.7 514.6 1712.6 514.2C1714.6 513.8 1716.5 513.5 1718.5 513.1C1720.4 512.7 1722.3 512.3 1724.3 511.9C1726.2 511.5 1728.2 511.2 1730.1 510.8C1732.1 510.4 1734.0 510.0 1736.0 509.7C1738.0 509.3 1740.0 508.9 1741.9 508.6C1743.9 508.2 1745.9 507.9 1747.9 507.6C1749.9 507.3 1752.0 507.0 1754.0 506.7C1756.0 506.4 1758.0 506.2 1760.0 506.0C1762.1 505.8 1764.1 505.6 1766.1 505.4C1768.1 505.2 1770.2 505.1 1772.2 505.0C1774.2 505.0 1776.2 504.9 1778.2 504.9C1780.2 504.9 1782.2 505.0 1784.2 505.0C1786.2 505.1 1788.2 505.3 1790.1 505.5C1792.1 505.7 1794.1 505.9 1796.0 506.3C1797.9 506.6 1799.9 507.0 1801.8 507.4C1803.7 507.8 1805.5 508.4 1807.4 508.9C1809.3 509.5 1811.1 510.2 1812.9 510.9C1814.8 511.6 1816.6 512.3 1818.4 513.2C1820.2 514.0 1822.0 514.8 1823.7 515.8C1825.5 516.7 1827.3 517.6 1829.0 518.6C1830.8 519.6 1832.5 520.6 1834.2 521.6C1836.0 522.6 1837.7 523.7 1839.4 524.7C1841.2 525.8 1842.9 526.9 1844.6 528.0C1846.3 529.0 1848.1 530.1 1849.8 531.2C1851.5 532.3 1853.3 533.4 1855.0 534.4C1856.7 535.5 1858.5 536.5 1860.2 537.6C1862.0 538.6 1863.7 539.7 1865.5 540.7C1867.2 541.7 1869.0 542.7 1870.8 543.7C1872.5 544.7 1874.3 545.6 1876.1 546.6C1877.9 547.5 1879.6 548.5 1881.4 549.4C1883.2 550.2 1885.0 551.1 1886.8 552.0C1888.6 552.8 1890.4 553.6 1892.3 554.4C1894.1 555.2 1895.9 556.0 1897.7 556.7C1899.6 557.4 1901.4 558.1 1903.3 558.7C1905.1 559.4 1907.0 560.0 1908.9 560.5C1910.8 561.1 1912.6 561.6 1914.5 562.1C1916.4 562.6 1918.3 563.0 1920.3 563.4C1922.2 563.8 1924.1 564.1 1926.1 564.4C1928.0 564.7 1930.0 564.9 1931.9 565.1C1933.9 565.3 1935.9 565.4 1937.9 565.5C1939.9 565.5 1941.9 565.5 1943.9 565.5C1945.9 565.5 1947.9 565.4 1950.0 565.3C1952.0 565.1 1954.1 565.0 1956.1 564.8C1958.1 564.6 1960.2 564.4 1962.2 564.2C1964.3 563.9 1966.3 563.7 1968.4 563.5C1970.4 563.2 1972.4 563.0 1974.4 562.8C1976.5 562.5 1978.5 562.3 1980.5 562.1C1982.5 561.9 1984.5 561.7 1986.4 561.5C1988.4 561.4 1990.3 561.3 1992.3 561.2C1994.2 561.1 1996.1 561.1 1998.0 561.1" stroke="#0000cc"/>
<path d="M1359.1 618.4C1361.1 618.3 1363.1 618.2 1365.1 618.1C1367.1 618.1 1369.1 618.0 1371.1 618.0C1373.1 617.9 1375.1 617.9 1377.1 617.8C1379.1 617.8 1381.1 617.8 1383.1 617.8C1385.1 617.7 1387.1 617.7 1389.1 617.7C1391.1 617.7 1393.1 617.7 1395.1 617.7C1397.2 617.7 1399.2 617.7 1401.2 617.7C1403.2 617.7 1405.2 617.7 1407.2 617.7C1409.2 617.7 1411.2 617.7 1413.2 617.7C1415.3 617.7 1417.3 617.7 1419.3 617.7C1421.3 617.7 1423.3 617.6 1425.3 617.6C1427.3 617.6 1429.3 617.5 1431.3 617.5C1433.3 617.4 1435.3 617.4 1437.3 617.3C1439.4 617.3 1441.4 617.2 1443.4 617.1C1445.4 617.0 1447.4 616.9 1449.4 616.8C1451.4 616.7 1453.4 616.5 1455.4 616.4C1457.4 616.2 1459.4 616.1 1461.4 615.9C1463.4 615.7 1465.4 615.6 1467.3 615.4C1469.3 615.2 1471.3 615.0 1473.3 614.8C1475.3 614.6 1477.3 614.3 1479.3 614.1C1481.3 613.9 1483.3 613.6 1485.3 613.4C1487.3 613.2 1489.2 612.9 1491.2 612.7C1493.2 612.4 1495.2 612.1 1497.2 611.9C1499.2 611.6 1501.2 611.3 1503.1 611.1C1505.1 610.8 1507.1 610.5 1509.1 610.2C1511.1 609.9 1513.1 609.6 1515.0 609.3C1517.0 609.1 1519.0 608.8 1521.0 608.5C1523.0 608.2 1525.0 607.9 1526.9 607.6C1528.9 607.3 1530.9 607.0 1532.9 606.7C1534.9 606.4 1536.9 606.1 1538.8 605.8C1540.8 605.5 1542.8 605.2 1544.8 604.9C1546.8 604.7 1548.8 604.4 1550.7 604.1C1552.7 603.8 1554.7 603.5 1556.7 603.2C1558.7 602.9 1560.7 602.6 1562.7 602.3C1564.6 602.0 1566.6 601.7 1568.6 601.5C1570.6 601.2 1572.6 600.9 1574.6 600.6C1576.5 600.3 1578.5 600.0 1580.5 599.7C1582.5 599.4 1584.5 599.2 1586.5 598.9C1588.5 598.6 1590.4 598.3 1592.4 598.0C1594.4 597.7 1596.4 597.4 1598.4 597.2C1600.4 596.9 1602.3 596.6 1604.3 596.3C1606.3 596.0 1608.3 595.7 1610.3 595.5C1612.3 595.2 1614.3 594.9 1616.2 594.6C1618.2 594.3 1620.2 594.1 1622.2 593.8C1624.2 593.5 1626.2 593.2 1628.2 592.9C1630.1 592.7 1632.1 592.4 1634.1 592.1C1636.1 591.8 1638.1 591.5 1640.1 591.3C1642.1 591.0 1644.0 590.7 1646.0 590.4C1648.0 590.2 1650.0 589.9 1652.0 589.6C1654.0 589.4 1656.0 589.1 1657.9 588.8C1659.9 588.5 1661.9 588.3 1663.9 588.0C1665.9 587.7 1667.9 587.5 1669.9 587.2C1671.8 586.9 1673.8 586.7 1675.8 586.4C1677.8 586.1 1679.8 585.9 1681.8 585.6C1683.8 585.3 1685.8 585.1 1687.7 584.8C1689.7 584.5 1691.7 584.3 1693.7 584.0C1695.7 583.7 1697.7 583.5 1699.7 583.2C1701.7 583.0 1703.6 582.7 1705.6 582.4C1707.6 582.2 1709.6 581.9 1711.6 581.7C1713.6 581.4 1715.6 581.1 1717.6 580.9C1719.5 580.6 1721.5 580.4 1723.5 580.1C1725.5 579.9 1727.5 579.6 1729.5 579.4C1731.5 579.1 1733.5 578.9 1735.5 578.6C1737.4 578.4 1739.4 578.2 1741.4 577.9C1743.4 577.7 1745.4 577.4 1747.4 577.2C1749.4 577.0 1751.4 576.7 1753.4 576.5C1755.4 576.3 1757.4 576.0 1759.4 575.8C1761.4 575.6 1763.4 575.4 1765.4 575.2C1767.4 574.9 1769.3 574.7 1771.3 574.5C1773.3 574.3 1775.3 574.1 1777.3 573.9C1779.3 573.7 1781.3 573.5 1783.3 573.3C1785.3 573.1 1787.3 572.9 1789.3 572.7C1791.3 572.5 1793.3 572.4 1795.3 572.2C1797.3 572.1 1799.3 572.0 1801.3 572.0C1803.3 571.9 1805.3 571.9 1807.3 572.0C1809.3 572.0 1811.3 572.1 1813.3 572.3C1815.3 572.4 1817.2 572.6 1819.2 572.9C1821.2 573.1 1823.2 573.3 1825.2 573.6C1827.1 573.9 1829.1 574.3 1831.1 574.6C1833.1 574.9 1835.0 575.3 1837.0 575.7C1839.0 576.1 1840.9 576.5 1842.9 576.9C1844.9 577.3 1846.8 577.7 1848.8 578.2C1850.8 578.6 1852.8 579.0 1854.7 579.5C1856.7 579.9 1858.7 580.3 1860.6 580.7C1862.6 581.2 1864.6 581.6 1866.6 582.0C1868.5 582.4 1870.5 582.8 1872.5 583.2C1874.4 583.6 1876.4 583.9 1878.4 584.3C1880.4 584.7 1882.3 585.1 1884.3 585.4C1886.3 585.8 1888.3 586.1 1890.3 586.5C1892.2 586.8 1894.2 587.1 1896.2 587.4C1898.2 587.8 1900.2 588.1 1902.1 588.4C1904.1 588.7 1906.1 588.9 1908.1 589.2C1910.1 589.5 1912.0 589.8 1914.0 590.0C1916.0 590.3 1918.0 590.5 1920.0 590.8C1922.0 591.0 1924.0 591.2 1926.0 591.4C1927.9 591.6 1929.9 591.8 1931.9 592.0C1933.9 592.2 1935.9 592.3 1937.9 592.5C1939.9 592.7 1941.9 592.8 1943.9 592.9C1945.9 593.1 1947.9 593.2 1949.9 593.3C1951.9 593.4 1953.9 593.5 1955.9 593.5C1957.9 593.6 1959.9 593.7 1961.9 593.7C1963.9 593.7 1965.9 593.8 1967.9 593.8C1969.9 593.8 1971.9 593.8 1973.9 593.8C1975.9 593.7 1977.9 593.7 1979.9 593.6C1981.9 593.6 1983.9 593.5 1985.9 593.4C1987.9 593.3 1989.9 593.2 1992.0 593.1C1994.0 593.0 1996.0 592.9 1998.0 592.7" stroke="#00cc00"/>
<path d="M1359.1 671.4C1361.1 671.3 1363.1 671.3 1365.1 671.3C1367.1 671.2 1369.1 671.2 1371.0 671.2C1373.0 671.3 1375.0 671.3 1377.0 671.3C1379.0 671.4 1381.0 671.4 1383.1 671.5C1385.1 671.5 1387.1 671.6 1389.1 671.6C1391.1 671.7 1393.1 671.7 1395.1 671.8C1397.1 671.8 1399.1 671.8 1401.1 671.8C1403.1 671.8 1405.1 671.8 1407.1 671.8C1409.0 671.8 1411.0 671.7 1413.0 671.7C1415.0 671.6 1417.0 671.5 1419.0 671.4C1421.0 671.3 1422.9 671.2 1424.9 671.0C1426.9 670.9 1428.9 670.8 1430.9 670.6C1432.8 670.5 1434.8 670.3 1436.8 670.1C1438.8 670.0 1440.8 669.8 1442.8 669.6C1444.7 669.5 1446.7 669.3 1448.7 669.1C1450.7 669.0 1452.7 668.8 1454.7 668.7C1456.7 668.5 1458.7 668.4 1460.7 668.2C1462.7 668.1 1464.7 667.9 1466.7 667.7C1468.7 667.6 1470.7 667.4 1472.7 667.2C1474.7 667.0 1476.7 666.8 1478.7 666.6C1480.7 666.4 1482.7 666.1 1484.6 665.9C1486.6 665.6 1488.6 665.3 1490.6 665.0C1492.5 664.6 1494.5 664.2 1496.4 663.7C1498.2 663.2 1500.1 662.5 1501.9 661.8C1503.7 661.0 1505.4 660.1 1507.1 659.1C1508.8 658.1 1510.5 657.0 1512.2 655.9C1513.8 654.7 1515.5 653.6 1517.1 652.4C1518.7 651.2 1520.4 650.0 1522.0 648.8C1523.7 647.7 1525.3 646.6 1527.0 645.5C1528.7 644.4 1530.4 643.4 1532.2 642.6C1533.9 641.7 1535.7 640.9 1537.6 640.3C1539.5 639.7 1541.4 639.2 1543.3 638.8C1545.3 638.4 1547.3 638.1 1549.3 637.9C1551.3 637.7 1553.3 637.6 1555.3 637.5C1557.4 637.4 1559.4 637.5 1561.5 637.5C1563.5 637.5 1565.5 637.7 1567.5 637.9C1569.5 638.1 1571.5 638.4 1573.4 638.8C1575.3 639.3 1577.2 639.9 1579.0 640.6C1580.9 641.3 1582.7 642.1 1584.4 643.0C1586.2 643.8 1588.0 644.8 1589.7 645.8C1591.4 646.8 1593.1 647.8 1594.9 648.8C1596.6 649.9 1598.3 650.9 1600.0 651.9C1601.8 652.9 1603.5 653.9 1605.3 654.9C1607.0 655.8 1608.8 656.7 1610.6 657.4C1612.4 658.2 1614.3 658.9 1616.1 659.6C1618.0 660.2 1619.9 660.8 1621.8 661.3C1623.7 661.8 1625.6 662.2 1627.6 662.6C1629.5 663.0 1631.5 663.3 1633.4 663.6C1635.4 663.9 1637.4 664.2 1639.4 664.4C1641.4 664.6 1643.4 664.8 1645.4 664.9C1647.4 665.1 1649.4 665.2 1651.4 665.3C1653.4 665.4 1655.5 665.5 1657.5 665.6C1659.5 665.7 1661.5 665.8 1663.5 665.8C1665.5 665.9 1667.5 665.9 1669.5 666.0C1671.5 666.0 1673.5 666.1 1675.5 666.1C1677.5 666.1 1679.5 666.2 1681.5 666.2C1683.5 666.2 1685.5 666.2 1687.5 666.2C1689.5 666.2 1691.5 666.2 1693.5 666.2C1695.5 666.2 1697.5 666.2 1699.5 666.2C1701.4 666.2 1703.4 666.2 1705.4 666.1C1707.4 666.1 1709.4 666.1 1711.4 666.1C1713.4 666.1 1715.4 666.0 1717.4 666.0C1719.4 666.0 1721.4 666.0 1723.4 665.9C1725.3 665.9 1727.3 665.9 1729.3 665.8C1731.3 665.8 1733.3 665.8 1735.3 665.8C1737.3 665.7 1739.3 665.7 1741.3 665.6C1743.3 665.6 1745.3 665.6 1747.3 665.5C1749.3 665.5 1751.3 665.5 1753.3 665.4C1755.3 665.4 1757.2 665.3 1759.2 665.3C1761.2 665.2 1763.2 665.2 1765.2 665.1C1767.2 665.1 1769.2 665.0 1771.2 664.9C1773.2 664.9 1775.2 664.8 1777.2 664.8C1779.2 664.7 1781.2 664.6 1783.2 664.6C1785.2 664.5 1787.2 664.4 1789.2 664.3C1791.1 664.3 1793.1 664.2 1795.1 664.1C1797.1 664.0 1799.1 663.9 1801.1 663.9C1803.1 663.8 1805.1 663.7 1807.1 663.6C1809.1 663.5 1811.1 663.4 1813.1 663.3C1815.1 663.2 1817.1 663.1 1819.1 663.0C1821.0 662.9 1823.0 662.7 1825.0 662.6C1827.0 662.5 1829.0 662.4 1831.0 662.3C1833.0 662.1 1835.0 662.0 1837.0 661.9C1839.0 661.8 1841.0 661.6 1843.0 661.5C1844.9 661.3 1846.9 661.2 1848.9 661.0C1850.9 660.9 1852.9 660.7 1854.9 660.6C1856.9 660.4 1858.9 660.2 1860.9 660.1C1862.8 659.9 1864.8 659.7 1866.8 659.6C1868.8 659.4 1870.8 659.2 1872.8 659.0C1874.8 658.8 1876.8 658.6 1878.7 658.4C1880.7 658.2 1882.7 658.0 1884.7 657.8C1886.7 657.6 1888.7 657.4 1890.7 657.2C1892.6 657.0 1894.6 656.7 1896.6 656.5C1898.6 656.3 1900.6 656.1 1902.6 655.8C1904.5 655.6 1906.5 655.4 1908.5 655.1C1910.5 654.9 1912.5 654.7 1914.5 654.5C1916.4 654.2 1918.4 654.0 1920.4 653.8C1922.4 653.6 1924.4 653.3 1926.4 653.1C1928.3 652.9 1930.3 652.7 1932.3 652.5C1934.3 652.2 1936.3 652.0 1938.3 651.8C1940.2 651.6 1942.2 651.4 1944.2 651.2C1946.2 651.0 1948.2 650.8 1950.2 650.7C1952.2 650.5 1954.1 650.3 1956.1 650.2C1958.1 650.0 1960.1 649.8 1962.1 649.7C1964.1 649.6 1966.1 649.4 1968.1 649.3C1970.1 649.2 1972.1 649.1 1974.0 649.0C1976.0 648.9 1978.0 648.8 1980.0 648.7C1982.0 648.6 1984.0 648.6 1986.0 648.5C1988.0 648.5 1990.0 648.4 1992.0 648.4C1994.0 648.4 1996.0 648.4 1998.0 648.4" stroke="#ffc000"/>
<path d="M1359.1 782.6C1361.1 782.6 1363.1 782.7 1365.1 782.7C1367.1 782.7 1369.1 782.7 1371.1 782.7C1373.1 782.7 1375.1 782.7 1377.1 782.7C1379.1 782.7 1381.1 782.6 1383.1 782.6C1385.1 782.5 1387.1 782.5 1389.0 782.4C1391.0 782.3 1393.0 782.3 1395.0 782.2C1397.0 782.1 1399.0 782.0 1401.0 781.8C1403.0 781.7 1405.0 781.6 1407.0 781.5C1408.9 781.3 1410.9 781.2 1412.9 781.0C1414.9 780.8 1416.9 780.7 1418.9 780.5C1420.9 780.3 1422.8 780.1 1424.8 779.9C1426.8 779.7 1428.8 779.5 1430.8 779.3C1432.7 779.0 1434.7 778.8 1436.7 778.5C1438.7 778.3 1440.7 778.0 1442.6 777.8C1444.6 777.5 1446.6 777.2 1448.5 776.9C1450.5 776.6 1452.5 776.3 1454.5 776.0C1456.4 775.7 1458.4 775.3 1460.3 775.0C1462.3 774.6 1464.3 774.2 1466.2 773.8C1468.2 773.4 1470.1 773.0 1472.1 772.5C1474.0 772.1 1476.0 771.6 1477.9 771.1C1479.8 770.5 1481.8 770.0 1483.7 769.4C1485.6 768.8 1487.6 768.2 1489.5 767.5C1491.4 766.8 1493.3 766.1 1495.1 765.3C1497.0 764.5 1498.8 763.6 1500.5 762.7C1502.2 761.7 1503.8 760.6 1505.4 759.5C1507.0 758.3 1508.5 757.1 1510.0 755.8C1511.5 754.5 1512.9 753.2 1514.2 751.8C1515.6 750.3 1517.0 748.9 1518.3 747.4C1519.6 745.9 1520.8 744.3 1522.1 742.8C1523.4 741.2 1524.6 739.6 1525.8 738.0C1527.1 736.4 1528.3 734.8 1529.5 733.2C1530.7 731.5 1532.0 729.9 1533.2 728.3C1534.5 726.7 1535.7 725.2 1537.0 723.6C1538.3 722.1 1539.6 720.5 1540.9 719.1C1542.3 717.6 1543.7 716.2 1545.1 714.8C1546.5 713.4 1548.0 712.1 1549.5 710.8C1551.0 709.5 1552.5 708.3 1554.1 707.1C1555.7 705.9 1557.3 704.8 1559.0 703.7C1560.6 702.6 1562.3 701.5 1564.0 700.5C1565.7 699.5 1567.4 698.6 1569.2 697.6C1571.0 696.7 1572.7 695.8 1574.5 695.0C1576.4 694.1 1578.2 693.3 1580.0 692.5C1581.9 691.7 1583.8 691.0 1585.6 690.3C1587.5 689.6 1589.4 688.9 1591.4 688.3C1593.3 687.7 1595.2 687.2 1597.2 686.7C1599.1 686.2 1601.0 685.7 1603.0 685.3C1605.0 685.0 1606.9 684.6 1608.9 684.4C1610.9 684.1 1612.9 683.9 1614.9 683.8C1616.8 683.7 1618.8 683.7 1620.8 683.7C1622.8 683.7 1624.8 683.7 1626.8 683.8C1628.8 684.0 1630.8 684.1 1632.7 684.4C1634.7 684.6 1636.7 684.9 1638.7 685.2C1640.6 685.5 1642.6 685.9 1644.5 686.3C1646.5 686.7 1648.4 687.2 1650.4 687.7C1652.3 688.1 1654.2 688.7 1656.2 689.2C1658.1 689.7 1660.0 690.3 1661.9 690.9C1663.9 691.4 1665.8 692.0 1667.7 692.6C1669.6 693.1 1671.5 693.7 1673.5 694.2C1675.4 694.8 1677.3 695.3 1679.2 695.8C1681.2 696.3 1683.1 696.7 1685.1 697.1C1687.0 697.6 1689.0 698.0 1690.9 698.4C1692.9 698.8 1694.8 699.1 1696.8 699.5C1698.8 699.9 1700.7 700.2 1702.7 700.5C1704.7 700.9 1706.6 701.2 1708.6 701.5C1710.6 701.9 1712.5 702.2 1714.5 702.5C1716.5 702.9 1718.4 703.2 1720.4 703.6C1722.4 703.9 1724.3 704.3 1726.3 704.6C1728.2 705.0 1730.2 705.4 1732.1 705.8C1734.1 706.2 1736.1 706.6 1738.0 707.0C1740.0 707.5 1741.9 707.9 1743.8 708.3C1745.8 708.8 1747.7 709.2 1749.7 709.7C1751.6 710.1 1753.6 710.6 1755.5 711.0C1757.5 711.5 1759.4 712.0 1761.3 712.4C1763.3 712.9 1765.2 713.4 1767.2 713.8C1769.1 714.3 1771.0 714.8 1773.0 715.2C1774.9 715.7 1776.9 716.1 1778.8 716.6C1780.7 717.1 1782.7 717.5 1784.6 718.0C1786.6 718.4 1788.5 718.9 1790.5 719.3C1792.4 719.8 1794.4 720.2 1796.3 720.6C1798.2 721.1 1800.2 721.5 1802.1 722.0C1804.1 722.4 1806.0 722.8 1808.0 723.2C1809.9 723.7 1811.9 724.1 1813.8 724.5C1815.8 724.9 1817.7 725.3 1819.7 725.7C1821.6 726.1 1823.6 726.5 1825.5 726.9C1827.5 727.3 1829.4 727.7 1831.4 728.1C1833.4 728.5 1835.3 728.8 1837.3 729.2C1839.2 729.6 1841.2 729.9 1843.1 730.3C1845.1 730.6 1847.1 731.0 1849.0 731.3C1851.0 731.6 1853.0 732.0 1854.9 732.3C1856.9 732.6 1858.9 732.9 1860.8 733.2C1862.8 733.5 1864.8 733.8 1866.7 734.1C1868.7 734.4 1870.7 734.7 1872.6 734.9C1874.6 735.2 1876.6 735.5 1878.6 735.7C1880.6 736.0 1882.5 736.2 1884.5 736.4C1886.5 736.7 1888.5 736.9 1890.5 737.1C1892.4 737.3 1894.4 737.5 1896.4 737.7C1898.4 737.8 1900.4 738.0 1902.4 738.2C1904.4 738.3 1906.4 738.5 1908.4 738.6C1910.4 738.8 1912.3 738.9 1914.3 739.1C1916.3 739.2 1918.3 739.3 1920.3 739.4C1922.3 739.6 1924.3 739.7 1926.3 739.8C1928.3 739.9 1930.3 740.0 1932.3 740.1C1934.3 740.2 1936.3 740.3 1938.3 740.4C1940.3 740.5 1942.3 740.6 1944.3 740.7C1946.3 740.8 1948.3 740.9 1950.3 741.0C1952.3 741.1 1954.3 741.2 1956.3 741.3C1958.3 741.4 1960.3 741.5 1962.3 741.6C1964.3 741.7 1966.3 741.8 1968.3 741.9C1970.2 742.0 1972.2 742.1 1974.2 742.3C1976.2 742.4 1978.2 742.5 1980.2 742.6C1982.2 742.8 1984.2 742.9 1986.1 743.1C1988.1 743.2 1990.1 743.4 1992.1 743.6C1994.1 743.7 1996.0 743.9 1998.0 744.1" stroke="#ff0000"/>
</g>
<line x1="1574.4" y1="96" x2="1576.3" y2="872" stroke="#ff0000" stroke-width="6.9" stroke-dasharray="24 16.15" shape-rendering="crispEdges"/>
<rect x="881" y="80" width="77" height="21" fill="#00ffff"/>
<rect x="881" y="135" width="77" height="21" fill="#00ffff"/>
<rect x="881" y="192" width="77" height="21" fill="#00cc00"/>
<rect x="881" y="249" width="77" height="21" fill="#ff9900"/>
<rect x="881" y="302" width="77" height="22" fill="#ff0000"/>
<rect x="881" y="356" width="77" height="22" fill="#080808"/>
<text transform="translate(972.30 105.00) scale(0.9820 1.0400)" font-size="45.50" fill="#000" text-anchor="start">CuO</text>
<text transform="translate(976.80 162.00) scale(0.9820 1.0400)" font-size="45.50" fill="#000" text-anchor="start">CuFe-4</text>
<text transform="translate(978.00 216.00) scale(0.9820 1.0400)" font-size="45.50" fill="#000" text-anchor="start">Fe<tspan font-size="30" dy="11">2</tspan><tspan dy="-11">O</tspan><tspan font-size="30" dy="11">3</tspan></text>
<text transform="translate(976.80 271.00) scale(0.9820 1.0400)" font-size="45.50" fill="#000" text-anchor="start">CuFe-3</text>
<text transform="translate(977.60 332.00) scale(0.9820 1.0400)" font-size="45.50" fill="#000" text-anchor="start">CuFe-2</text>
<text transform="translate(977.60 384.00) scale(0.9820 1.0400)" font-size="45.50" fill="#000" text-anchor="start">CuFe-1</text>
<text transform="translate(169.50 975.20) scale(1.0000 1.0650)" font-size="75.00" fill="#1a1a1a" text-anchor="middle">60</text>
<text transform="translate(335.75 975.20) scale(1.0000 1.0650)" font-size="75.00" fill="#1a1a1a" text-anchor="middle">160</text>
<text transform="translate(502.00 975.20) scale(1.0000 1.0650)" font-size="75.00" fill="#1a1a1a" text-anchor="middle">260</text>
<text transform="translate(668.25 975.20) scale(1.0000 1.0650)" font-size="75.00" fill="#1a1a1a" text-anchor="middle">360</text>
<text transform="translate(834.50 975.20) scale(1.0000 1.0650)" font-size="75.00" fill="#1a1a1a" text-anchor="middle">460</text>
<text transform="translate(1000.75 975.20) scale(1.0000 1.0650)" font-size="75.00" fill="#1a1a1a" text-anchor="middle">560</text>
<text transform="translate(1167.00 975.20) scale(1.0000 1.0650)" font-size="75.00" fill="#1a1a1a" text-anchor="middle">660</text>
<text transform="translate(1369.50 966.20) scale(1.0000 1.0860)" font-size="69.70" fill="#1a1a1a" text-anchor="middle">80</text>
<text transform="translate(1523.50 966.20) scale(1.0000 1.0860)" font-size="69.70" fill="#1a1a1a" text-anchor="middle">130</text>
<text transform="translate(1677.50 966.20) scale(1.0000 1.0860)" font-size="69.70" fill="#1a1a1a" text-anchor="middle">180</text>
<text transform="translate(1831.50 966.20) scale(1.0000 1.0860)" font-size="69.70" fill="#1a1a1a" text-anchor="middle">230</text>
<text transform="translate(1985.50 966.20) scale(1.0000 1.0860)" font-size="69.70" fill="#1a1a1a" text-anchor="middle">280</text>
<text transform="translate(667.40 1074.00) scale(1.0120 1.0600)" font-size="80.50" fill="#000" text-anchor="middle">T <tspan font-size="76.7">(</tspan>°C<tspan font-size="76.7">)</tspan></text>
<text transform="translate(1674.50 1070.00) scale(1.0120 1.0600)" font-size="80.50" fill="#000" text-anchor="middle">T <tspan font-size="76.7">(</tspan>°C<tspan font-size="76.7">)</tspan></text>
<text transform="translate(94.00 467.60) rotate(-90) scale(1.0040 1.0250)" font-size="82.00" fill="#000" text-anchor="middle">TCD Signal <tspan font-size="78">(</tspan>a.u.<tspan font-size="78">)</tspan></text>
<text transform="translate(1295.00 448.90) rotate(-90) scale(1.0040 1.0250)" font-size="82.00" fill="#000" text-anchor="middle">TCD Signal <tspan font-size="78">(</tspan>a.u.<tspan font-size="78">)</tspan></text>
</svg></body></html>
